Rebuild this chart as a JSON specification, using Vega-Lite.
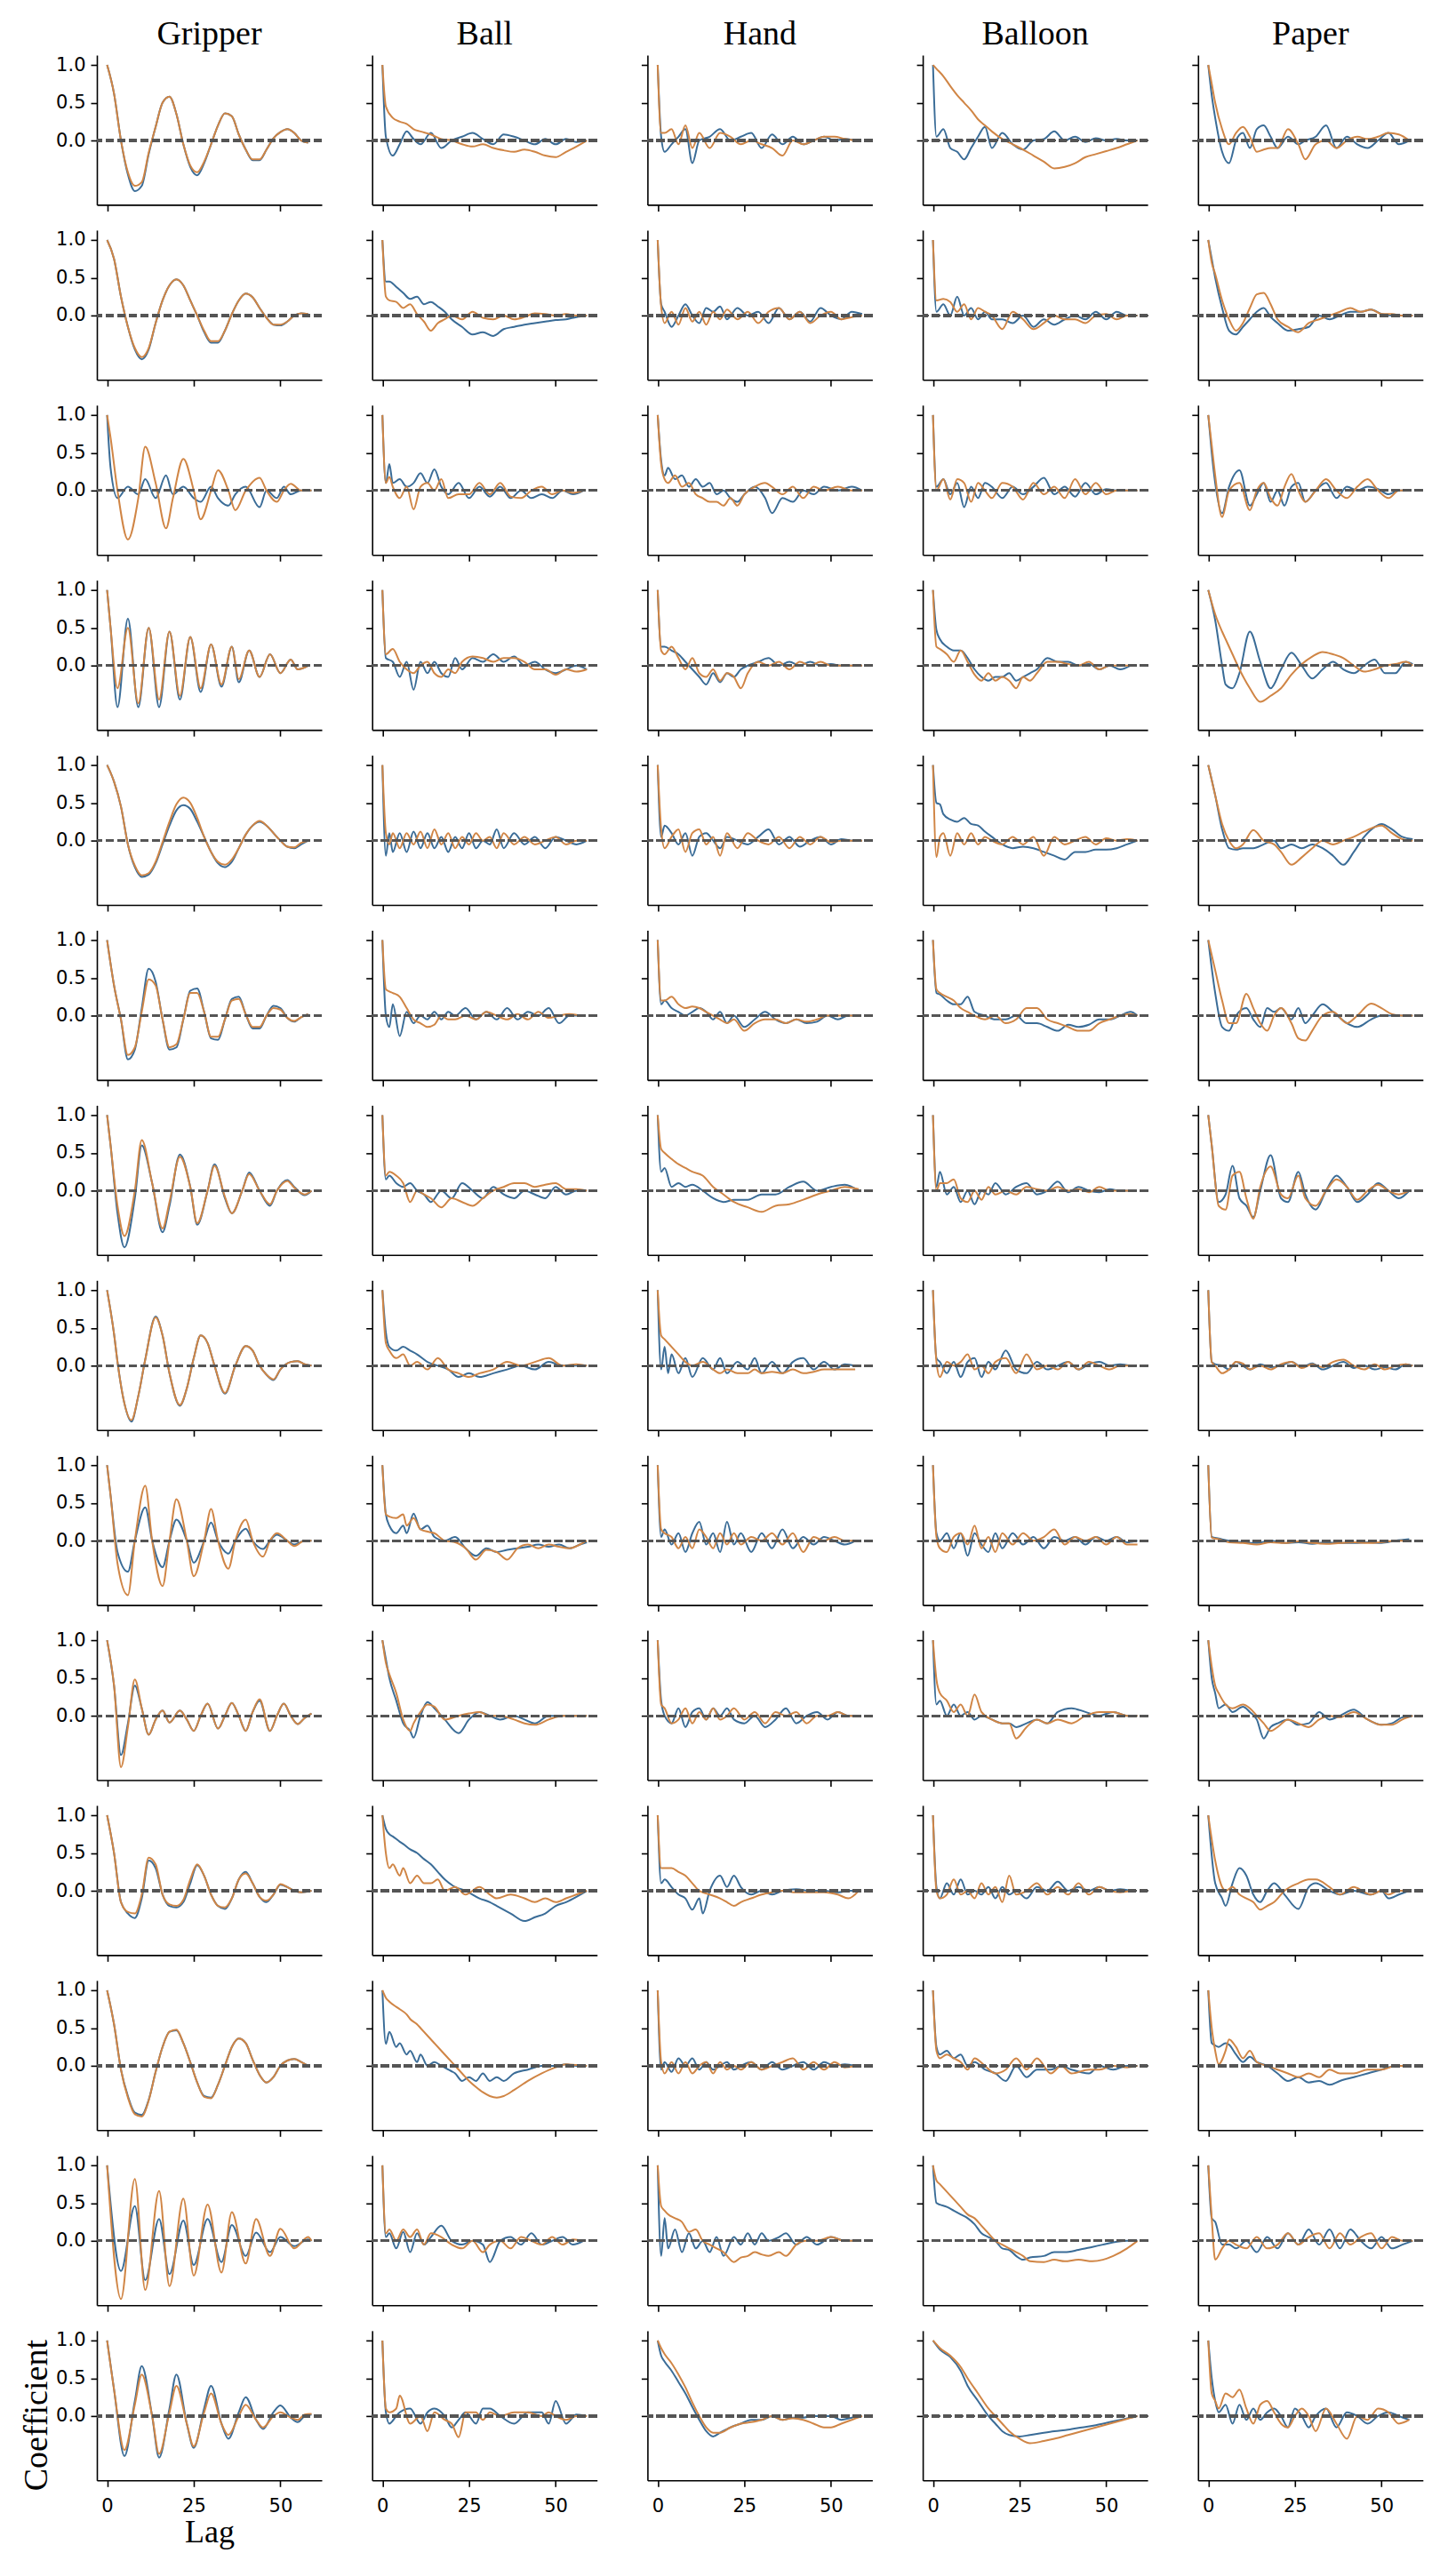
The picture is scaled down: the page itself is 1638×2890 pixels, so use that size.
{
"$schema":"https://vega.github.io/schema/vega-lite/v6.json",
"background":"white",
"padding":{"left":22,"top":20,"right":5,"bottom":5},
"title":{"text":"Coefficient","orient":"left","anchor":"start","frame":"bounds","font":"Liberation Serif","fontSize":38,"fontWeight":"normal","color":"black","offset":2,"dx":64},
"datasets":{"acf":[
{"r":1,"c":"G","x":0,"a":1,"b":1},{"r":1,"c":"G","x":2,"a":0.62,"b":0.62},{"r":1,"c":"G","x":4,"a":0,"b":0},{"r":1,"c":"G","x":6,"a":-0.45,"b":-0.42},{"r":1,"c":"G","x":8,"a":-0.67,"b":-0.6},{"r":1,"c":"G","x":10,"a":-0.6,"b":-0.55},{"r":1,"c":"G","x":12,"a":-0.18,"b":-0.16},{"r":1,"c":"G","x":14,"a":0.18,"b":0.18},{"r":1,"c":"G","x":16,"a":0.5,"b":0.5},{"r":1,"c":"G","x":18,"a":0.58,"b":0.58},{"r":1,"c":"G","x":20,"a":0.35,"b":0.35},{"r":1,"c":"G","x":22,"a":-0.05,"b":-0.05},{"r":1,"c":"G","x":24,"a":-0.35,"b":-0.33},{"r":1,"c":"G","x":26,"a":-0.46,"b":-0.42},{"r":1,"c":"G","x":28,"a":-0.3,"b":-0.28},{"r":1,"c":"G","x":30,"a":-0.05,"b":-0.05},{"r":1,"c":"G","x":32,"a":0.2,"b":0.2},{"r":1,"c":"G","x":34,"a":0.36,"b":0.36},{"r":1,"c":"G","x":36,"a":0.32,"b":0.32},{"r":1,"c":"G","x":38,"a":0.08,"b":0.08},{"r":1,"c":"G","x":40,"a":-0.12,"b":-0.12},{"r":1,"c":"G","x":42,"a":-0.26,"b":-0.25},{"r":1,"c":"G","x":44,"a":-0.26,"b":-0.25},{"r":1,"c":"G","x":46,"a":-0.12,"b":-0.12},{"r":1,"c":"G","x":48,"a":0.03,"b":0.03},{"r":1,"c":"G","x":50,"a":0.11,"b":0.11},{"r":1,"c":"G","x":52,"a":0.15,"b":0.15},{"r":1,"c":"G","x":54,"a":0.1,"b":0.1},{"r":1,"c":"G","x":56,"a":0,"b":0},{"r":1,"c":"G","x":58,"a":-0.03,"b":-0.03},
{"r":1,"c":"B","x":0,"a":1,"b":1},{"r":1,"c":"B","x":1,"a":0.05,"b":0.45},{"r":1,"c":"B","x":3,"a":-0.2,"b":0.3},{"r":1,"c":"B","x":5,"a":-0.05,"b":0.25},{"r":1,"c":"B","x":7,"a":0.12,"b":0.22},{"r":1,"c":"B","x":9,"a":0.02,"b":0.15},{"r":1,"c":"B","x":11,"a":-0.05,"b":0.12},{"r":1,"c":"B","x":14,"a":0.1,"b":0.08},{"r":1,"c":"B","x":17,"a":-0.1,"b":0.02},{"r":1,"c":"B","x":20,"a":0,"b":0},{"r":1,"c":"B","x":23,"a":0.05,"b":-0.05},{"r":1,"c":"B","x":26,"a":0.1,"b":-0.08},{"r":1,"c":"B","x":29,"a":0.02,"b":-0.05},{"r":1,"c":"B","x":32,"a":-0.05,"b":-0.1},{"r":1,"c":"B","x":35,"a":0.08,"b":-0.13},{"r":1,"c":"B","x":38,"a":0.05,"b":-0.15},{"r":1,"c":"B","x":41,"a":0,"b":-0.12},{"r":1,"c":"B","x":44,"a":-0.05,"b":-0.15},{"r":1,"c":"B","x":47,"a":0.02,"b":-0.2},{"r":1,"c":"B","x":50,"a":-0.05,"b":-0.22},{"r":1,"c":"B","x":53,"a":0.02,"b":-0.15},{"r":1,"c":"B","x":56,"a":-0.02,"b":-0.08},{"r":1,"c":"B","x":59,"a":0,"b":0},
{"r":1,"c":"H","x":0,"a":1,"b":1},{"r":1,"c":"H","x":1,"a":0.05,"b":0.1},{"r":1,"c":"H","x":2,"a":-0.15,"b":0.1},{"r":1,"c":"H","x":4,"a":-0.05,"b":0.15},{"r":1,"c":"H","x":6,"a":0.05,"b":-0.05},{"r":1,"c":"H","x":8,"a":0.15,"b":0.2},{"r":1,"c":"H","x":10,"a":-0.3,"b":-0.1},{"r":1,"c":"H","x":12,"a":0,"b":0.1},{"r":1,"c":"H","x":15,"a":0.05,"b":-0.1},{"r":1,"c":"H","x":18,"a":0.15,"b":0.1},{"r":1,"c":"H","x":21,"a":0,"b":0.05},{"r":1,"c":"H","x":24,"a":0.05,"b":-0.05},{"r":1,"c":"H","x":27,"a":0.1,"b":0},{"r":1,"c":"H","x":30,"a":-0.1,"b":-0.05},{"r":1,"c":"H","x":33,"a":0.08,"b":-0.1},{"r":1,"c":"H","x":36,"a":-0.05,"b":-0.2},{"r":1,"c":"H","x":39,"a":0.05,"b":0},{"r":1,"c":"H","x":42,"a":-0.05,"b":-0.05},{"r":1,"c":"H","x":45,"a":0,"b":0},{"r":1,"c":"H","x":48,"a":0.05,"b":0.05},{"r":1,"c":"H","x":51,"a":0,"b":0.05},{"r":1,"c":"H","x":54,"a":0.02,"b":0.02},{"r":1,"c":"H","x":57,"a":0,"b":0},
{"r":1,"c":"L","x":0,"a":1,"b":1},{"r":1,"c":"L","x":1,"a":0.05,"b":0.95},{"r":1,"c":"L","x":3,"a":0.15,"b":0.85},{"r":1,"c":"L","x":5,"a":-0.1,"b":0.72},{"r":1,"c":"L","x":7,"a":-0.15,"b":0.6},{"r":1,"c":"L","x":9,"a":-0.25,"b":0.5},{"r":1,"c":"L","x":11,"a":-0.1,"b":0.4},{"r":1,"c":"L","x":13,"a":0.05,"b":0.28},{"r":1,"c":"L","x":15,"a":0.18,"b":0.2},{"r":1,"c":"L","x":17,"a":-0.1,"b":0.12},{"r":1,"c":"L","x":20,"a":0.1,"b":0.02},{"r":1,"c":"L","x":23,"a":-0.05,"b":-0.05},{"r":1,"c":"L","x":26,"a":-0.12,"b":-0.12},{"r":1,"c":"L","x":29,"a":0,"b":-0.2},{"r":1,"c":"L","x":32,"a":0.02,"b":-0.28},{"r":1,"c":"L","x":35,"a":0.12,"b":-0.37},{"r":1,"c":"L","x":38,"a":0,"b":-0.35},{"r":1,"c":"L","x":41,"a":0.05,"b":-0.3},{"r":1,"c":"L","x":44,"a":-0.02,"b":-0.22},{"r":1,"c":"L","x":47,"a":0.03,"b":-0.18},{"r":1,"c":"L","x":50,"a":0,"b":-0.14},{"r":1,"c":"L","x":53,"a":0.02,"b":-0.1},{"r":1,"c":"L","x":56,"a":0,"b":-0.05},{"r":1,"c":"L","x":59,"a":0,"b":0},
{"r":1,"c":"P","x":0,"a":1,"b":1},{"r":1,"c":"P","x":1,"a":0.6,"b":0.75},{"r":1,"c":"P","x":2,"a":0.3,"b":0.5},{"r":1,"c":"P","x":4,"a":-0.15,"b":0.15},{"r":1,"c":"P","x":6,"a":-0.3,"b":-0.05},{"r":1,"c":"P","x":8,"a":0,"b":0.1},{"r":1,"c":"P","x":10,"a":0.1,"b":0.18},{"r":1,"c":"P","x":12,"a":-0.1,"b":0.05},{"r":1,"c":"P","x":14,"a":0.15,"b":-0.15},{"r":1,"c":"P","x":16,"a":0.2,"b":-0.12},{"r":1,"c":"P","x":18,"a":0.05,"b":-0.1},{"r":1,"c":"P","x":20,"a":-0.1,"b":-0.1},{"r":1,"c":"P","x":23,"a":0.05,"b":0.15},{"r":1,"c":"P","x":26,"a":-0.05,"b":-0.05},{"r":1,"c":"P","x":28,"a":0,"b":-0.25},{"r":1,"c":"P","x":31,"a":0.05,"b":-0.05},{"r":1,"c":"P","x":34,"a":0.2,"b":0},{"r":1,"c":"P","x":37,"a":-0.1,"b":-0.1},{"r":1,"c":"P","x":40,"a":0.05,"b":0},{"r":1,"c":"P","x":43,"a":-0.05,"b":0.05},{"r":1,"c":"P","x":46,"a":-0.1,"b":0.02},{"r":1,"c":"P","x":49,"a":0,"b":0.05},{"r":1,"c":"P","x":52,"a":0.1,"b":0.1},{"r":1,"c":"P","x":55,"a":-0.05,"b":0.08},{"r":1,"c":"P","x":58,"a":0,"b":0},
{"r":2,"c":"G","x":0,"a":1,"b":1},{"r":2,"c":"G","x":2,"a":0.75,"b":0.75},{"r":2,"c":"G","x":4,"a":0.25,"b":0.25},{"r":2,"c":"G","x":6,"a":-0.15,"b":-0.15},{"r":2,"c":"G","x":8,"a":-0.45,"b":-0.43},{"r":2,"c":"G","x":10,"a":-0.58,"b":-0.55},{"r":2,"c":"G","x":12,"a":-0.45,"b":-0.43},{"r":2,"c":"G","x":14,"a":-0.1,"b":-0.1},{"r":2,"c":"G","x":16,"a":0.2,"b":0.2},{"r":2,"c":"G","x":18,"a":0.4,"b":0.4},{"r":2,"c":"G","x":20,"a":0.48,"b":0.48},{"r":2,"c":"G","x":22,"a":0.4,"b":0.4},{"r":2,"c":"G","x":24,"a":0.2,"b":0.2},{"r":2,"c":"G","x":26,"a":0,"b":0},{"r":2,"c":"G","x":28,"a":-0.22,"b":-0.2},{"r":2,"c":"G","x":30,"a":-0.36,"b":-0.34},{"r":2,"c":"G","x":32,"a":-0.36,"b":-0.34},{"r":2,"c":"G","x":34,"a":-0.2,"b":-0.2},{"r":2,"c":"G","x":36,"a":0.02,"b":0.02},{"r":2,"c":"G","x":38,"a":0.2,"b":0.2},{"r":2,"c":"G","x":40,"a":0.29,"b":0.29},{"r":2,"c":"G","x":42,"a":0.24,"b":0.24},{"r":2,"c":"G","x":44,"a":0.1,"b":0.1},{"r":2,"c":"G","x":46,"a":-0.03,"b":-0.03},{"r":2,"c":"G","x":48,"a":-0.12,"b":-0.12},{"r":2,"c":"G","x":50,"a":-0.13,"b":-0.12},{"r":2,"c":"G","x":52,"a":-0.08,"b":-0.08},{"r":2,"c":"G","x":54,"a":0,"b":0},{"r":2,"c":"G","x":56,"a":0.03,"b":0.03},{"r":2,"c":"G","x":58,"a":0.02,"b":0.02},
{"r":2,"c":"B","x":0,"a":1,"b":1},{"r":2,"c":"B","x":1,"a":0.45,"b":0.25},{"r":2,"c":"B","x":2,"a":0.45,"b":0.2},{"r":2,"c":"B","x":4,"a":0.38,"b":0.18},{"r":2,"c":"B","x":6,"a":0.3,"b":0.1},{"r":2,"c":"B","x":8,"a":0.22,"b":0.15},{"r":2,"c":"B","x":10,"a":0.25,"b":0.02},{"r":2,"c":"B","x":12,"a":0.15,"b":-0.08},{"r":2,"c":"B","x":14,"a":0.18,"b":-0.2},{"r":2,"c":"B","x":16,"a":0.12,"b":-0.1},{"r":2,"c":"B","x":18,"a":0.05,"b":-0.05},{"r":2,"c":"B","x":20,"a":-0.05,"b":0},{"r":2,"c":"B","x":23,"a":-0.15,"b":-0.05},{"r":2,"c":"B","x":26,"a":-0.25,"b":0.05},{"r":2,"c":"B","x":29,"a":-0.22,"b":-0.03},{"r":2,"c":"B","x":32,"a":-0.27,"b":-0.05},{"r":2,"c":"B","x":35,"a":-0.18,"b":0},{"r":2,"c":"B","x":38,"a":-0.15,"b":-0.05},{"r":2,"c":"B","x":41,"a":-0.12,"b":-0.02},{"r":2,"c":"B","x":44,"a":-0.1,"b":0.03},{"r":2,"c":"B","x":47,"a":-0.08,"b":0.02},{"r":2,"c":"B","x":50,"a":-0.06,"b":0},{"r":2,"c":"B","x":53,"a":-0.05,"b":0.02},{"r":2,"c":"B","x":56,"a":-0.02,"b":0},{"r":2,"c":"B","x":59,"a":0,"b":0},
{"r":2,"c":"H","x":0,"a":1,"b":1},{"r":2,"c":"H","x":1,"a":0.15,"b":0.12},{"r":2,"c":"H","x":2,"a":0.05,"b":-0.1},{"r":2,"c":"H","x":4,"a":-0.15,"b":0.05},{"r":2,"c":"H","x":6,"a":0,"b":-0.12},{"r":2,"c":"H","x":8,"a":0.15,"b":0.1},{"r":2,"c":"H","x":10,"a":0,"b":-0.08},{"r":2,"c":"H","x":12,"a":-0.1,"b":0.05},{"r":2,"c":"H","x":14,"a":0.1,"b":-0.12},{"r":2,"c":"H","x":16,"a":0.05,"b":0.05},{"r":2,"c":"H","x":18,"a":0.12,"b":-0.05},{"r":2,"c":"H","x":20,"a":-0.05,"b":0.08},{"r":2,"c":"H","x":23,"a":0.1,"b":-0.05},{"r":2,"c":"H","x":26,"a":0,"b":0.05},{"r":2,"c":"H","x":29,"a":0.05,"b":-0.1},{"r":2,"c":"H","x":32,"a":-0.1,"b":0.05},{"r":2,"c":"H","x":35,"a":0.1,"b":0.1},{"r":2,"c":"H","x":38,"a":-0.05,"b":-0.05},{"r":2,"c":"H","x":41,"a":0.05,"b":0.05},{"r":2,"c":"H","x":44,"a":-0.08,"b":-0.1},{"r":2,"c":"H","x":47,"a":0.1,"b":0},{"r":2,"c":"H","x":50,"a":0,"b":0.05},{"r":2,"c":"H","x":53,"a":-0.05,"b":-0.05},{"r":2,"c":"H","x":56,"a":0.05,"b":-0.02},{"r":2,"c":"H","x":59,"a":0.02,"b":0},
{"r":2,"c":"L","x":0,"a":1,"b":1},{"r":2,"c":"L","x":1,"a":0.05,"b":0.2},{"r":2,"c":"L","x":3,"a":0.15,"b":0.22},{"r":2,"c":"L","x":5,"a":0,"b":0.18},{"r":2,"c":"L","x":7,"a":0.25,"b":0.05},{"r":2,"c":"L","x":9,"a":0,"b":0.15},{"r":2,"c":"L","x":11,"a":0.1,"b":-0.05},{"r":2,"c":"L","x":13,"a":-0.05,"b":0.1},{"r":2,"c":"L","x":15,"a":0.05,"b":0.05},{"r":2,"c":"L","x":17,"a":-0.05,"b":0},{"r":2,"c":"L","x":20,"a":-0.05,"b":-0.18},{"r":2,"c":"L","x":23,"a":-0.1,"b":0.05},{"r":2,"c":"L","x":26,"a":0,"b":-0.05},{"r":2,"c":"L","x":29,"a":-0.15,"b":-0.18},{"r":2,"c":"L","x":32,"a":-0.05,"b":-0.1},{"r":2,"c":"L","x":35,"a":-0.12,"b":0},{"r":2,"c":"L","x":38,"a":-0.05,"b":-0.05},{"r":2,"c":"L","x":41,"a":0,"b":-0.05},{"r":2,"c":"L","x":44,"a":-0.05,"b":-0.1},{"r":2,"c":"L","x":47,"a":0.05,"b":0},{"r":2,"c":"L","x":50,"a":-0.05,"b":0.02},{"r":2,"c":"L","x":53,"a":0.05,"b":-0.05},{"r":2,"c":"L","x":56,"a":0,"b":0},{"r":2,"c":"L","x":59,"a":0,"b":0},
{"r":2,"c":"P","x":0,"a":1,"b":1},{"r":2,"c":"P","x":1,"a":0.75,"b":0.7},{"r":2,"c":"P","x":2,"a":0.5,"b":0.55},{"r":2,"c":"P","x":4,"a":0.1,"b":0.2},{"r":2,"c":"P","x":6,"a":-0.2,"b":-0.05},{"r":2,"c":"P","x":8,"a":-0.25,"b":-0.2},{"r":2,"c":"P","x":10,"a":-0.15,"b":-0.1},{"r":2,"c":"P","x":12,"a":-0.05,"b":0.1},{"r":2,"c":"P","x":14,"a":0.05,"b":0.28},{"r":2,"c":"P","x":16,"a":0.1,"b":0.3},{"r":2,"c":"P","x":18,"a":-0.02,"b":0.15},{"r":2,"c":"P","x":20,"a":-0.1,"b":-0.05},{"r":2,"c":"P","x":23,"a":-0.2,"b":-0.15},{"r":2,"c":"P","x":26,"a":-0.18,"b":-0.22},{"r":2,"c":"P","x":29,"a":-0.15,"b":-0.1},{"r":2,"c":"P","x":32,"a":0,"b":-0.05},{"r":2,"c":"P","x":35,"a":-0.05,"b":0},{"r":2,"c":"P","x":38,"a":0,"b":0.05},{"r":2,"c":"P","x":41,"a":0.05,"b":0.1},{"r":2,"c":"P","x":44,"a":0.05,"b":0.05},{"r":2,"c":"P","x":47,"a":0.08,"b":0.08},{"r":2,"c":"P","x":50,"a":0.02,"b":0.02},{"r":2,"c":"P","x":53,"a":0,"b":0.02},{"r":2,"c":"P","x":56,"a":0,"b":0},{"r":2,"c":"P","x":59,"a":0,"b":0},
{"r":3,"c":"G","x":0,"a":1,"b":1},{"r":3,"c":"G","x":1,"a":0.3,"b":0.7},{"r":3,"c":"G","x":3,"a":-0.1,"b":0},{"r":3,"c":"G","x":6,"a":0.05,"b":-0.65},{"r":3,"c":"G","x":9,"a":-0.05,"b":-0.1},{"r":3,"c":"G","x":11,"a":0.15,"b":0.58},{"r":3,"c":"G","x":14,"a":-0.1,"b":0.1},{"r":3,"c":"G","x":17,"a":0.2,"b":-0.5},{"r":3,"c":"G","x":19,"a":-0.05,"b":-0.1},{"r":3,"c":"G","x":22,"a":0.05,"b":0.42},{"r":3,"c":"G","x":25,"a":-0.1,"b":0},{"r":3,"c":"G","x":27,"a":-0.15,"b":-0.38},{"r":3,"c":"G","x":30,"a":0.05,"b":0},{"r":3,"c":"G","x":32,"a":-0.1,"b":0.27},{"r":3,"c":"G","x":35,"a":-0.2,"b":0},{"r":3,"c":"G","x":37,"a":-0.05,"b":-0.26},{"r":3,"c":"G","x":40,"a":0.05,"b":0},{"r":3,"c":"G","x":44,"a":-0.22,"b":0.17},{"r":3,"c":"G","x":46,"a":0,"b":0},{"r":3,"c":"G","x":49,"a":-0.1,"b":-0.15},{"r":3,"c":"G","x":51,"a":0.05,"b":0},{"r":3,"c":"G","x":53,"a":-0.05,"b":0.09},{"r":3,"c":"G","x":56,"a":0,"b":0},{"r":3,"c":"G","x":59,"a":0,"b":0},
{"r":3,"c":"B","x":0,"a":1,"b":1},{"r":3,"c":"B","x":1,"a":0.1,"b":0.1},{"r":3,"c":"B","x":2,"a":0.35,"b":0.18},{"r":3,"c":"B","x":3,"a":0.1,"b":0.05},{"r":3,"c":"B","x":5,"a":0.15,"b":-0.1},{"r":3,"c":"B","x":7,"a":0.05,"b":0.05},{"r":3,"c":"B","x":9,"a":0.1,"b":-0.25},{"r":3,"c":"B","x":11,"a":0.23,"b":0.05},{"r":3,"c":"B","x":13,"a":0.1,"b":0.1},{"r":3,"c":"B","x":15,"a":0.28,"b":0},{"r":3,"c":"B","x":17,"a":0.05,"b":0.15},{"r":3,"c":"B","x":19,"a":-0.05,"b":-0.1},{"r":3,"c":"B","x":22,"a":0.1,"b":-0.05},{"r":3,"c":"B","x":25,"a":-0.1,"b":-0.05},{"r":3,"c":"B","x":28,"a":0.05,"b":0.1},{"r":3,"c":"B","x":31,"a":-0.08,"b":-0.05},{"r":3,"c":"B","x":34,"a":0.05,"b":0.1},{"r":3,"c":"B","x":37,"a":-0.1,"b":-0.08},{"r":3,"c":"B","x":40,"a":0,"b":-0.1},{"r":3,"c":"B","x":43,"a":-0.1,"b":0},{"r":3,"c":"B","x":46,"a":-0.05,"b":0.05},{"r":3,"c":"B","x":49,"a":-0.1,"b":-0.05},{"r":3,"c":"B","x":52,"a":0,"b":0},{"r":3,"c":"B","x":55,"a":-0.05,"b":-0.03},{"r":3,"c":"B","x":58,"a":0,"b":0},
{"r":3,"c":"H","x":0,"a":1,"b":1},{"r":3,"c":"H","x":1,"a":0.4,"b":0.35},{"r":3,"c":"H","x":2,"a":0.2,"b":0.15},{"r":3,"c":"H","x":3,"a":0.3,"b":0.1},{"r":3,"c":"H","x":5,"a":0.15,"b":0.2},{"r":3,"c":"H","x":7,"a":0.2,"b":0.05},{"r":3,"c":"H","x":9,"a":0.05,"b":0.1},{"r":3,"c":"H","x":11,"a":0.15,"b":-0.05},{"r":3,"c":"H","x":13,"a":0.05,"b":-0.1},{"r":3,"c":"H","x":15,"a":0.1,"b":-0.15},{"r":3,"c":"H","x":17,"a":-0.05,"b":-0.15},{"r":3,"c":"H","x":19,"a":0,"b":-0.2},{"r":3,"c":"H","x":21,"a":-0.1,"b":-0.1},{"r":3,"c":"H","x":23,"a":-0.15,"b":-0.2},{"r":3,"c":"H","x":25,"a":-0.05,"b":-0.05},{"r":3,"c":"H","x":28,"a":0.05,"b":0.05},{"r":3,"c":"H","x":31,"a":-0.1,"b":0.1},{"r":3,"c":"H","x":33,"a":-0.3,"b":0.05},{"r":3,"c":"H","x":36,"a":-0.1,"b":-0.05},{"r":3,"c":"H","x":39,"a":-0.15,"b":0.05},{"r":3,"c":"H","x":42,"a":0,"b":-0.1},{"r":3,"c":"H","x":45,"a":-0.05,"b":0.05},{"r":3,"c":"H","x":48,"a":0.05,"b":0},{"r":3,"c":"H","x":52,"a":0,"b":0.05},{"r":3,"c":"H","x":56,"a":0.05,"b":0},{"r":3,"c":"H","x":59,"a":0,"b":0},
{"r":3,"c":"L","x":0,"a":1,"b":1},{"r":3,"c":"L","x":1,"a":0.05,"b":0},{"r":3,"c":"L","x":3,"a":0.15,"b":0.15},{"r":3,"c":"L","x":5,"a":-0.05,"b":-0.12},{"r":3,"c":"L","x":7,"a":0.1,"b":0.15},{"r":3,"c":"L","x":9,"a":-0.22,"b":0.1},{"r":3,"c":"L","x":11,"a":0.05,"b":-0.15},{"r":3,"c":"L","x":13,"a":-0.1,"b":0.1},{"r":3,"c":"L","x":15,"a":0.1,"b":0},{"r":3,"c":"L","x":17,"a":0.05,"b":-0.1},{"r":3,"c":"L","x":20,"a":-0.1,"b":0.1},{"r":3,"c":"L","x":23,"a":0.05,"b":0.05},{"r":3,"c":"L","x":26,"a":-0.05,"b":-0.12},{"r":3,"c":"L","x":29,"a":0.05,"b":0.1},{"r":3,"c":"L","x":32,"a":0.17,"b":-0.05},{"r":3,"c":"L","x":35,"a":-0.05,"b":0.05},{"r":3,"c":"L","x":38,"a":0.05,"b":-0.1},{"r":3,"c":"L","x":41,"a":-0.08,"b":0.15},{"r":3,"c":"L","x":44,"a":0.1,"b":-0.05},{"r":3,"c":"L","x":47,"a":-0.05,"b":0.1},{"r":3,"c":"L","x":50,"a":0.02,"b":-0.05},{"r":3,"c":"L","x":53,"a":0,"b":0},{"r":3,"c":"L","x":56,"a":0,"b":0},{"r":3,"c":"L","x":59,"a":0,"b":0},
{"r":3,"c":"P","x":0,"a":1,"b":1},{"r":3,"c":"P","x":1,"a":0.5,"b":0.6},{"r":3,"c":"P","x":2,"a":0.1,"b":0.2},{"r":3,"c":"P","x":4,"a":-0.3,"b":-0.35},{"r":3,"c":"P","x":6,"a":0.05,"b":0},{"r":3,"c":"P","x":9,"a":0.27,"b":0.1},{"r":3,"c":"P","x":12,"a":-0.2,"b":-0.26},{"r":3,"c":"P","x":14,"a":-0.05,"b":0},{"r":3,"c":"P","x":16,"a":0.1,"b":0.1},{"r":3,"c":"P","x":18,"a":-0.15,"b":-0.1},{"r":3,"c":"P","x":20,"a":0,"b":-0.2},{"r":3,"c":"P","x":22,"a":-0.2,"b":0.05},{"r":3,"c":"P","x":24,"a":0.05,"b":0.22},{"r":3,"c":"P","x":26,"a":0.1,"b":0},{"r":3,"c":"P","x":28,"a":-0.15,"b":-0.15},{"r":3,"c":"P","x":31,"a":0,"b":0},{"r":3,"c":"P","x":34,"a":0.1,"b":0.15},{"r":3,"c":"P","x":37,"a":-0.1,"b":0},{"r":3,"c":"P","x":40,"a":0.05,"b":-0.1},{"r":3,"c":"P","x":43,"a":0,"b":0.05},{"r":3,"c":"P","x":46,"a":0.05,"b":0.15},{"r":3,"c":"P","x":49,"a":0.02,"b":0},{"r":3,"c":"P","x":52,"a":-0.05,"b":-0.1},{"r":3,"c":"P","x":55,"a":0,"b":0},{"r":3,"c":"P","x":58,"a":0,"b":0},
{"r":4,"c":"G","x":0,"a":1,"b":1},{"r":4,"c":"G","x":1,"a":0.5,"b":0.5},{"r":4,"c":"G","x":3,"a":-0.55,"b":-0.3},{"r":4,"c":"G","x":6,"a":0.62,"b":0.5},{"r":4,"c":"G","x":9,"a":-0.55,"b":-0.5},{"r":4,"c":"G","x":12,"a":0.5,"b":0.5},{"r":4,"c":"G","x":15,"a":-0.55,"b":-0.45},{"r":4,"c":"G","x":18,"a":0.45,"b":0.45},{"r":4,"c":"G","x":21,"a":-0.45,"b":-0.4},{"r":4,"c":"G","x":24,"a":0.38,"b":0.38},{"r":4,"c":"G","x":27,"a":-0.35,"b":-0.3},{"r":4,"c":"G","x":30,"a":0.28,"b":0.28},{"r":4,"c":"G","x":33,"a":-0.28,"b":-0.25},{"r":4,"c":"G","x":36,"a":0.25,"b":0.25},{"r":4,"c":"G","x":38,"a":-0.22,"b":-0.18},{"r":4,"c":"G","x":41,"a":0.2,"b":0.2},{"r":4,"c":"G","x":44,"a":-0.15,"b":-0.15},{"r":4,"c":"G","x":47,"a":0.15,"b":0.15},{"r":4,"c":"G","x":50,"a":-0.1,"b":-0.1},{"r":4,"c":"G","x":53,"a":0.08,"b":0.08},{"r":4,"c":"G","x":55,"a":-0.05,"b":-0.05},{"r":4,"c":"G","x":58,"a":0,"b":0},
{"r":4,"c":"B","x":0,"a":1,"b":1},{"r":4,"c":"B","x":1,"a":0.1,"b":0.15},{"r":4,"c":"B","x":3,"a":0.05,"b":0.22},{"r":4,"c":"B","x":5,"a":-0.15,"b":0.05},{"r":4,"c":"B","x":7,"a":0.05,"b":-0.05},{"r":4,"c":"B","x":9,"a":-0.32,"b":-0.1},{"r":4,"c":"B","x":11,"a":0.05,"b":0},{"r":4,"c":"B","x":13,"a":-0.1,"b":0.05},{"r":4,"c":"B","x":15,"a":0.05,"b":-0.1},{"r":4,"c":"B","x":17,"a":-0.1,"b":-0.15},{"r":4,"c":"B","x":19,"a":-0.15,"b":-0.05},{"r":4,"c":"B","x":21,"a":0.1,"b":-0.1},{"r":4,"c":"B","x":23,"a":-0.05,"b":0.05},{"r":4,"c":"B","x":26,"a":0.1,"b":0.12},{"r":4,"c":"B","x":29,"a":0.05,"b":0.1},{"r":4,"c":"B","x":32,"a":0.15,"b":0.05},{"r":4,"c":"B","x":35,"a":0.05,"b":0.1},{"r":4,"c":"B","x":38,"a":0.12,"b":0.1},{"r":4,"c":"B","x":41,"a":0,"b":0.05},{"r":4,"c":"B","x":44,"a":0.05,"b":-0.05},{"r":4,"c":"B","x":47,"a":-0.05,"b":-0.05},{"r":4,"c":"B","x":50,"a":-0.1,"b":-0.12},{"r":4,"c":"B","x":53,"a":-0.05,"b":-0.05},{"r":4,"c":"B","x":56,"a":0,"b":-0.08},{"r":4,"c":"B","x":59,"a":-0.05,"b":-0.05},
{"r":4,"c":"H","x":0,"a":1,"b":1},{"r":4,"c":"H","x":1,"a":0.25,"b":0.2},{"r":4,"c":"H","x":2,"a":0.25,"b":0.15},{"r":4,"c":"H","x":4,"a":0.2,"b":0.25},{"r":4,"c":"H","x":6,"a":0.15,"b":0.1},{"r":4,"c":"H","x":8,"a":0.05,"b":-0.05},{"r":4,"c":"H","x":10,"a":-0.05,"b":0.1},{"r":4,"c":"H","x":12,"a":-0.15,"b":-0.1},{"r":4,"c":"H","x":14,"a":-0.25,"b":-0.15},{"r":4,"c":"H","x":16,"a":-0.1,"b":-0.05},{"r":4,"c":"H","x":18,"a":-0.22,"b":-0.2},{"r":4,"c":"H","x":20,"a":-0.1,"b":-0.1},{"r":4,"c":"H","x":22,"a":-0.15,"b":-0.15},{"r":4,"c":"H","x":24,"a":-0.05,"b":-0.3},{"r":4,"c":"H","x":26,"a":0,"b":-0.1},{"r":4,"c":"H","x":29,"a":0.05,"b":0.05},{"r":4,"c":"H","x":32,"a":0.1,"b":0},{"r":4,"c":"H","x":35,"a":0,"b":0.05},{"r":4,"c":"H","x":38,"a":0.05,"b":-0.05},{"r":4,"c":"H","x":41,"a":0,"b":0.05},{"r":4,"c":"H","x":44,"a":0.05,"b":0},{"r":4,"c":"H","x":47,"a":0,"b":0.05},{"r":4,"c":"H","x":50,"a":0.02,"b":0},{"r":4,"c":"H","x":53,"a":0,"b":0},{"r":4,"c":"H","x":56,"a":0,"b":0},{"r":4,"c":"H","x":59,"a":0,"b":0},
{"r":4,"c":"L","x":0,"a":1,"b":1},{"r":4,"c":"L","x":1,"a":0.47,"b":0.25},{"r":4,"c":"L","x":2,"a":0.35,"b":0.22},{"r":4,"c":"L","x":4,"a":0.25,"b":0.15},{"r":4,"c":"L","x":6,"a":0.2,"b":0.05},{"r":4,"c":"L","x":8,"a":0.2,"b":0.2},{"r":4,"c":"L","x":10,"a":0.1,"b":0.05},{"r":4,"c":"L","x":12,"a":-0.05,"b":-0.12},{"r":4,"c":"L","x":14,"a":-0.15,"b":-0.2},{"r":4,"c":"L","x":16,"a":-0.2,"b":-0.1},{"r":4,"c":"L","x":18,"a":-0.15,"b":-0.2},{"r":4,"c":"L","x":20,"a":-0.15,"b":-0.15},{"r":4,"c":"L","x":22,"a":-0.1,"b":-0.2},{"r":4,"c":"L","x":24,"a":-0.2,"b":-0.3},{"r":4,"c":"L","x":26,"a":-0.15,"b":-0.15},{"r":4,"c":"L","x":28,"a":-0.1,"b":-0.2},{"r":4,"c":"L","x":30,"a":-0.05,"b":-0.1},{"r":4,"c":"L","x":33,"a":0.1,"b":0.05},{"r":4,"c":"L","x":36,"a":0.05,"b":0.05},{"r":4,"c":"L","x":39,"a":0.05,"b":0.02},{"r":4,"c":"L","x":42,"a":0,"b":0},{"r":4,"c":"L","x":45,"a":0.02,"b":0.05},{"r":4,"c":"L","x":48,"a":-0.05,"b":-0.05},{"r":4,"c":"L","x":51,"a":0,"b":0},{"r":4,"c":"L","x":54,"a":-0.05,"b":0},{"r":4,"c":"L","x":57,"a":0,"b":0},
{"r":4,"c":"P","x":0,"a":1,"b":1},{"r":4,"c":"P","x":2,"a":0.6,"b":0.68},{"r":4,"c":"P","x":4,"a":0,"b":0.45},{"r":4,"c":"P","x":5,"a":-0.25,"b":0.35},{"r":4,"c":"P","x":7,"a":-0.3,"b":0.15},{"r":4,"c":"P","x":9,"a":-0.1,"b":-0.05},{"r":4,"c":"P","x":12,"a":0.45,"b":-0.3},{"r":4,"c":"P","x":15,"a":0.05,"b":-0.48},{"r":4,"c":"P","x":18,"a":-0.3,"b":-0.4},{"r":4,"c":"P","x":21,"a":-0.05,"b":-0.3},{"r":4,"c":"P","x":24,"a":0.17,"b":-0.12},{"r":4,"c":"P","x":27,"a":0,"b":0.02},{"r":4,"c":"P","x":30,"a":-0.17,"b":0.12},{"r":4,"c":"P","x":33,"a":-0.05,"b":0.18},{"r":4,"c":"P","x":36,"a":0.05,"b":0.15},{"r":4,"c":"P","x":39,"a":-0.05,"b":0.1},{"r":4,"c":"P","x":42,"a":-0.1,"b":0},{"r":4,"c":"P","x":45,"a":0,"b":-0.08},{"r":4,"c":"P","x":48,"a":0.08,"b":-0.05},{"r":4,"c":"P","x":51,"a":-0.1,"b":0},{"r":4,"c":"P","x":54,"a":-0.1,"b":0.02},{"r":4,"c":"P","x":57,"a":0.05,"b":0.05},{"r":4,"c":"P","x":59,"a":0.02,"b":0},
{"r":5,"c":"G","x":0,"a":1,"b":1},{"r":5,"c":"G","x":2,"a":0.78,"b":0.78},{"r":5,"c":"G","x":4,"a":0.45,"b":0.45},{"r":5,"c":"G","x":6,"a":-0.05,"b":-0.05},{"r":5,"c":"G","x":8,"a":-0.35,"b":-0.33},{"r":5,"c":"G","x":10,"a":-0.48,"b":-0.46},{"r":5,"c":"G","x":12,"a":-0.45,"b":-0.43},{"r":5,"c":"G","x":14,"a":-0.3,"b":-0.28},{"r":5,"c":"G","x":16,"a":-0.05,"b":-0.02},{"r":5,"c":"G","x":18,"a":0.2,"b":0.25},{"r":5,"c":"G","x":20,"a":0.4,"b":0.48},{"r":5,"c":"G","x":22,"a":0.47,"b":0.57},{"r":5,"c":"G","x":24,"a":0.42,"b":0.5},{"r":5,"c":"G","x":26,"a":0.25,"b":0.3},{"r":5,"c":"G","x":28,"a":0.05,"b":0.05},{"r":5,"c":"G","x":30,"a":-0.15,"b":-0.15},{"r":5,"c":"G","x":32,"a":-0.3,"b":-0.28},{"r":5,"c":"G","x":34,"a":-0.35,"b":-0.32},{"r":5,"c":"G","x":36,"a":-0.28,"b":-0.25},{"r":5,"c":"G","x":38,"a":-0.1,"b":-0.1},{"r":5,"c":"G","x":40,"a":0.08,"b":0.08},{"r":5,"c":"G","x":42,"a":0.2,"b":0.2},{"r":5,"c":"G","x":44,"a":0.25,"b":0.26},{"r":5,"c":"G","x":46,"a":0.2,"b":0.2},{"r":5,"c":"G","x":48,"a":0.1,"b":0.1},{"r":5,"c":"G","x":50,"a":0,"b":0},{"r":5,"c":"G","x":52,"a":-0.08,"b":-0.08},{"r":5,"c":"G","x":54,"a":-0.1,"b":-0.09},{"r":5,"c":"G","x":56,"a":-0.05,"b":-0.03},{"r":5,"c":"G","x":58,"a":0,"b":0},
{"r":5,"c":"B","x":0,"a":1,"b":1},{"r":5,"c":"B","x":1,"a":-0.2,"b":0.1},{"r":5,"c":"B","x":2,"a":0.1,"b":-0.05},{"r":5,"c":"B","x":3,"a":-0.15,"b":0.1},{"r":5,"c":"B","x":5,"a":0.1,"b":-0.1},{"r":5,"c":"B","x":7,"a":-0.15,"b":0.1},{"r":5,"c":"B","x":9,"a":0.12,"b":-0.05},{"r":5,"c":"B","x":11,"a":-0.1,"b":0.12},{"r":5,"c":"B","x":13,"a":0.1,"b":-0.1},{"r":5,"c":"B","x":15,"a":-0.1,"b":0.15},{"r":5,"c":"B","x":17,"a":0.05,"b":-0.05},{"r":5,"c":"B","x":19,"a":-0.15,"b":0.1},{"r":5,"c":"B","x":21,"a":0.05,"b":-0.1},{"r":5,"c":"B","x":23,"a":-0.1,"b":0.05},{"r":5,"c":"B","x":25,"a":0.1,"b":-0.05},{"r":5,"c":"B","x":27,"a":-0.1,"b":0.1},{"r":5,"c":"B","x":29,"a":0,"b":0},{"r":5,"c":"B","x":31,"a":-0.05,"b":0.05},{"r":5,"c":"B","x":33,"a":0.15,"b":-0.1},{"r":5,"c":"B","x":35,"a":-0.1,"b":0.1},{"r":5,"c":"B","x":38,"a":0.1,"b":-0.05},{"r":5,"c":"B","x":41,"a":-0.05,"b":0.05},{"r":5,"c":"B","x":44,"a":0.05,"b":-0.05},{"r":5,"c":"B","x":47,"a":-0.1,"b":0},{"r":5,"c":"B","x":50,"a":0.05,"b":0.05},{"r":5,"c":"B","x":53,"a":0,"b":-0.05},{"r":5,"c":"B","x":56,"a":-0.05,"b":0},{"r":5,"c":"B","x":59,"a":0,"b":0},
{"r":5,"c":"H","x":0,"a":1,"b":1},{"r":5,"c":"H","x":1,"a":0.05,"b":0.15},{"r":5,"c":"H","x":2,"a":0.2,"b":-0.1},{"r":5,"c":"H","x":4,"a":0.1,"b":0.05},{"r":5,"c":"H","x":6,"a":-0.05,"b":0.15},{"r":5,"c":"H","x":8,"a":0.1,"b":-0.15},{"r":5,"c":"H","x":10,"a":-0.2,"b":0.1},{"r":5,"c":"H","x":12,"a":0.05,"b":0.15},{"r":5,"c":"H","x":14,"a":0.1,"b":-0.05},{"r":5,"c":"H","x":16,"a":0,"b":0.05},{"r":5,"c":"H","x":18,"a":-0.1,"b":-0.2},{"r":5,"c":"H","x":20,"a":0.05,"b":0.1},{"r":5,"c":"H","x":23,"a":0,"b":-0.1},{"r":5,"c":"H","x":26,"a":-0.05,"b":0.1},{"r":5,"c":"H","x":29,"a":0.05,"b":0},{"r":5,"c":"H","x":32,"a":0.15,"b":-0.05},{"r":5,"c":"H","x":35,"a":-0.05,"b":0.05},{"r":5,"c":"H","x":38,"a":0.05,"b":-0.1},{"r":5,"c":"H","x":41,"a":-0.08,"b":0.05},{"r":5,"c":"H","x":44,"a":0,"b":-0.05},{"r":5,"c":"H","x":47,"a":0.05,"b":0.05},{"r":5,"c":"H","x":50,"a":-0.05,"b":-0.02},{"r":5,"c":"H","x":53,"a":0.02,"b":0},{"r":5,"c":"H","x":56,"a":0,"b":0},{"r":5,"c":"H","x":59,"a":0,"b":0},
{"r":5,"c":"L","x":0,"a":1,"b":1},{"r":5,"c":"L","x":1,"a":0.5,"b":-0.22},{"r":5,"c":"L","x":2,"a":0.48,"b":0.05},{"r":5,"c":"L","x":3,"a":0.35,"b":0.1},{"r":5,"c":"L","x":5,"a":0.28,"b":-0.2},{"r":5,"c":"L","x":7,"a":0.25,"b":0.1},{"r":5,"c":"L","x":9,"a":0.3,"b":-0.05},{"r":5,"c":"L","x":11,"a":0.22,"b":0.1},{"r":5,"c":"L","x":13,"a":0.2,"b":-0.05},{"r":5,"c":"L","x":15,"a":0.12,"b":0.05},{"r":5,"c":"L","x":17,"a":0.05,"b":0},{"r":5,"c":"L","x":20,"a":-0.05,"b":-0.05},{"r":5,"c":"L","x":23,"a":-0.1,"b":0.05},{"r":5,"c":"L","x":26,"a":-0.08,"b":-0.05},{"r":5,"c":"L","x":29,"a":-0.1,"b":0.05},{"r":5,"c":"L","x":32,"a":-0.15,"b":-0.2},{"r":5,"c":"L","x":35,"a":-0.2,"b":0.05},{"r":5,"c":"L","x":38,"a":-0.25,"b":-0.05},{"r":5,"c":"L","x":41,"a":-0.15,"b":0},{"r":5,"c":"L","x":44,"a":-0.15,"b":0.05},{"r":5,"c":"L","x":47,"a":-0.12,"b":-0.05},{"r":5,"c":"L","x":50,"a":-0.12,"b":0.03},{"r":5,"c":"L","x":53,"a":-0.1,"b":0},{"r":5,"c":"L","x":56,"a":-0.05,"b":0.02},{"r":5,"c":"L","x":59,"a":0,"b":0},
{"r":5,"c":"P","x":0,"a":1,"b":1},{"r":5,"c":"P","x":2,"a":0.6,"b":0.6},{"r":5,"c":"P","x":4,"a":0.15,"b":0.22},{"r":5,"c":"P","x":6,"a":-0.1,"b":0},{"r":5,"c":"P","x":8,"a":-0.12,"b":-0.1},{"r":5,"c":"P","x":10,"a":-0.1,"b":-0.05},{"r":5,"c":"P","x":13,"a":-0.1,"b":0.14},{"r":5,"c":"P","x":16,"a":-0.05,"b":0},{"r":5,"c":"P","x":19,"a":0,"b":-0.05},{"r":5,"c":"P","x":21,"a":-0.1,"b":-0.15},{"r":5,"c":"P","x":24,"a":-0.05,"b":-0.32},{"r":5,"c":"P","x":27,"a":-0.1,"b":-0.22},{"r":5,"c":"P","x":30,"a":-0.05,"b":-0.1},{"r":5,"c":"P","x":33,"a":-0.1,"b":0},{"r":5,"c":"P","x":36,"a":-0.2,"b":-0.05},{"r":5,"c":"P","x":39,"a":-0.32,"b":0},{"r":5,"c":"P","x":42,"a":-0.15,"b":0.05},{"r":5,"c":"P","x":45,"a":0.05,"b":0.12},{"r":5,"c":"P","x":48,"a":0.18,"b":0.18},{"r":5,"c":"P","x":50,"a":0.22,"b":0.2},{"r":5,"c":"P","x":53,"a":0.15,"b":0.1},{"r":5,"c":"P","x":56,"a":0.05,"b":0.02},{"r":5,"c":"P","x":59,"a":0.02,"b":0},
{"r":6,"c":"G","x":0,"a":1,"b":1},{"r":6,"c":"G","x":2,"a":0.4,"b":0.4},{"r":6,"c":"G","x":4,"a":-0.05,"b":-0.05},{"r":6,"c":"G","x":6,"a":-0.58,"b":-0.52},{"r":6,"c":"G","x":8,"a":-0.45,"b":-0.42},{"r":6,"c":"G","x":10,"a":0.1,"b":0.05},{"r":6,"c":"G","x":12,"a":0.62,"b":0.48},{"r":6,"c":"G","x":14,"a":0.45,"b":0.4},{"r":6,"c":"G","x":16,"a":-0.05,"b":-0.05},{"r":6,"c":"G","x":18,"a":-0.45,"b":-0.42},{"r":6,"c":"G","x":20,"a":-0.42,"b":-0.38},{"r":6,"c":"G","x":22,"a":-0.05,"b":-0.05},{"r":6,"c":"G","x":24,"a":0.33,"b":0.3},{"r":6,"c":"G","x":26,"a":0.36,"b":0.3},{"r":6,"c":"G","x":28,"a":0.05,"b":0.05},{"r":6,"c":"G","x":30,"a":-0.3,"b":-0.28},{"r":6,"c":"G","x":32,"a":-0.32,"b":-0.28},{"r":6,"c":"G","x":34,"a":-0.05,"b":-0.05},{"r":6,"c":"G","x":36,"a":0.22,"b":0.2},{"r":6,"c":"G","x":38,"a":0.25,"b":0.22},{"r":6,"c":"G","x":40,"a":0.02,"b":0.02},{"r":6,"c":"G","x":42,"a":-0.17,"b":-0.15},{"r":6,"c":"G","x":44,"a":-0.17,"b":-0.15},{"r":6,"c":"G","x":46,"a":0,"b":0},{"r":6,"c":"G","x":48,"a":0.13,"b":0.1},{"r":6,"c":"G","x":50,"a":0.1,"b":0.08},{"r":6,"c":"G","x":52,"a":-0.03,"b":-0.03},{"r":6,"c":"G","x":54,"a":-0.08,"b":-0.07},{"r":6,"c":"G","x":56,"a":-0.02,"b":-0.02},{"r":6,"c":"G","x":58,"a":0.02,"b":0.02},
{"r":6,"c":"B","x":0,"a":1,"b":1},{"r":6,"c":"B","x":1,"a":0,"b":0.35},{"r":6,"c":"B","x":2,"a":-0.15,"b":0.32},{"r":6,"c":"B","x":3,"a":0.15,"b":0.3},{"r":6,"c":"B","x":5,"a":-0.27,"b":0.25},{"r":6,"c":"B","x":7,"a":0.05,"b":0.1},{"r":6,"c":"B","x":9,"a":-0.1,"b":-0.05},{"r":6,"c":"B","x":11,"a":0,"b":-0.1},{"r":6,"c":"B","x":13,"a":-0.05,"b":-0.15},{"r":6,"c":"B","x":15,"a":0.05,"b":-0.12},{"r":6,"c":"B","x":17,"a":-0.05,"b":0},{"r":6,"c":"B","x":19,"a":0.05,"b":-0.05},{"r":6,"c":"B","x":21,"a":0,"b":-0.05},{"r":6,"c":"B","x":24,"a":0.1,"b":0},{"r":6,"c":"B","x":27,"a":-0.05,"b":-0.05},{"r":6,"c":"B","x":30,"a":0.05,"b":0.05},{"r":6,"c":"B","x":33,"a":-0.05,"b":0},{"r":6,"c":"B","x":36,"a":0.1,"b":-0.05},{"r":6,"c":"B","x":39,"a":-0.05,"b":0.02},{"r":6,"c":"B","x":42,"a":0.05,"b":-0.05},{"r":6,"c":"B","x":45,"a":0,"b":0.05},{"r":6,"c":"B","x":48,"a":0.1,"b":-0.03},{"r":6,"c":"B","x":51,"a":-0.1,"b":0},{"r":6,"c":"B","x":54,"a":0,"b":0.02},{"r":6,"c":"B","x":57,"a":0,"b":0},
{"r":6,"c":"H","x":0,"a":1,"b":1},{"r":6,"c":"H","x":1,"a":0.15,"b":0.2},{"r":6,"c":"H","x":2,"a":0.2,"b":0.2},{"r":6,"c":"H","x":4,"a":0.1,"b":0.25},{"r":6,"c":"H","x":6,"a":0.05,"b":0.15},{"r":6,"c":"H","x":8,"a":0,"b":0.1},{"r":6,"c":"H","x":10,"a":0.05,"b":0.12},{"r":6,"c":"H","x":12,"a":0.1,"b":0.1},{"r":6,"c":"H","x":14,"a":0.05,"b":0.05},{"r":6,"c":"H","x":16,"a":-0.05,"b":0},{"r":6,"c":"H","x":18,"a":0.05,"b":-0.05},{"r":6,"c":"H","x":20,"a":-0.1,"b":-0.1},{"r":6,"c":"H","x":22,"a":0,"b":-0.05},{"r":6,"c":"H","x":25,"a":-0.15,"b":-0.2},{"r":6,"c":"H","x":28,"a":-0.05,"b":-0.1},{"r":6,"c":"H","x":31,"a":0.05,"b":-0.05},{"r":6,"c":"H","x":34,"a":-0.05,"b":-0.05},{"r":6,"c":"H","x":37,"a":-0.1,"b":-0.1},{"r":6,"c":"H","x":40,"a":-0.05,"b":-0.05},{"r":6,"c":"H","x":43,"a":-0.1,"b":-0.08},{"r":6,"c":"H","x":46,"a":-0.08,"b":-0.05},{"r":6,"c":"H","x":49,"a":0,"b":0},{"r":6,"c":"H","x":52,"a":-0.05,"b":0},{"r":6,"c":"H","x":55,"a":0,"b":0},{"r":6,"c":"H","x":58,"a":0,"b":0},
{"r":6,"c":"L","x":0,"a":1,"b":1},{"r":6,"c":"L","x":1,"a":0.3,"b":0.35},{"r":6,"c":"L","x":2,"a":0.28,"b":0.3},{"r":6,"c":"L","x":4,"a":0.2,"b":0.25},{"r":6,"c":"L","x":6,"a":0.15,"b":0.2},{"r":6,"c":"L","x":8,"a":0.15,"b":0.1},{"r":6,"c":"L","x":10,"a":0.25,"b":0.05},{"r":6,"c":"L","x":12,"a":0.05,"b":0},{"r":6,"c":"L","x":15,"a":0,"b":-0.05},{"r":6,"c":"L","x":18,"a":-0.05,"b":0},{"r":6,"c":"L","x":21,"a":-0.05,"b":-0.1},{"r":6,"c":"L","x":24,"a":0,"b":-0.05},{"r":6,"c":"L","x":27,"a":-0.1,"b":0.1},{"r":6,"c":"L","x":30,"a":-0.1,"b":0.1},{"r":6,"c":"L","x":33,"a":-0.15,"b":-0.05},{"r":6,"c":"L","x":36,"a":-0.2,"b":-0.1},{"r":6,"c":"L","x":39,"a":-0.12,"b":-0.15},{"r":6,"c":"L","x":42,"a":-0.15,"b":-0.2},{"r":6,"c":"L","x":45,"a":-0.12,"b":-0.2},{"r":6,"c":"L","x":48,"a":-0.05,"b":-0.1},{"r":6,"c":"L","x":51,"a":-0.05,"b":-0.05},{"r":6,"c":"L","x":54,"a":0,"b":0},{"r":6,"c":"L","x":57,"a":0.05,"b":0.02},{"r":6,"c":"L","x":59,"a":0,"b":0},
{"r":6,"c":"P","x":0,"a":1,"b":1},{"r":6,"c":"P","x":2,"a":0.3,"b":0.6},{"r":6,"c":"P","x":4,"a":-0.15,"b":0.2},{"r":6,"c":"P","x":6,"a":-0.2,"b":-0.1},{"r":6,"c":"P","x":8,"a":0,"b":-0.1},{"r":6,"c":"P","x":11,"a":0.1,"b":0.29},{"r":6,"c":"P","x":13,"a":-0.05,"b":0.1},{"r":6,"c":"P","x":15,"a":-0.15,"b":-0.1},{"r":6,"c":"P","x":17,"a":0.1,"b":-0.2},{"r":6,"c":"P","x":19,"a":0.05,"b":0},{"r":6,"c":"P","x":21,"a":0.1,"b":0.1},{"r":6,"c":"P","x":24,"a":-0.05,"b":-0.1},{"r":6,"c":"P","x":26,"a":0.1,"b":-0.3},{"r":6,"c":"P","x":28,"a":-0.1,"b":-0.33},{"r":6,"c":"P","x":30,"a":0,"b":-0.2},{"r":6,"c":"P","x":33,"a":0.15,"b":0},{"r":6,"c":"P","x":36,"a":0.05,"b":0.05},{"r":6,"c":"P","x":40,"a":-0.1,"b":-0.1},{"r":6,"c":"P","x":43,"a":-0.15,"b":0},{"r":6,"c":"P","x":47,"a":-0.05,"b":0.16},{"r":6,"c":"P","x":50,"a":0,"b":0.1},{"r":6,"c":"P","x":53,"a":0,"b":0.02},{"r":6,"c":"P","x":56,"a":0,"b":0},{"r":6,"c":"P","x":59,"a":0,"b":0},
{"r":7,"c":"G","x":0,"a":1,"b":1},{"r":7,"c":"G","x":1,"a":0.6,"b":0.6},{"r":7,"c":"G","x":3,"a":-0.3,"b":-0.2},{"r":7,"c":"G","x":5,"a":-0.75,"b":-0.6},{"r":7,"c":"G","x":8,"a":-0.1,"b":0},{"r":7,"c":"G","x":10,"a":0.6,"b":0.67},{"r":7,"c":"G","x":13,"a":0.1,"b":0.1},{"r":7,"c":"G","x":16,"a":-0.55,"b":-0.5},{"r":7,"c":"G","x":18,"a":-0.2,"b":-0.15},{"r":7,"c":"G","x":21,"a":0.48,"b":0.45},{"r":7,"c":"G","x":24,"a":0.05,"b":0.05},{"r":7,"c":"G","x":26,"a":-0.45,"b":-0.43},{"r":7,"c":"G","x":29,"a":0,"b":0},{"r":7,"c":"G","x":31,"a":0.35,"b":0.33},{"r":7,"c":"G","x":34,"a":-0.1,"b":-0.08},{"r":7,"c":"G","x":36,"a":-0.3,"b":-0.3},{"r":7,"c":"G","x":39,"a":0,"b":0},{"r":7,"c":"G","x":41,"a":0.24,"b":0.22},{"r":7,"c":"G","x":44,"a":0,"b":0},{"r":7,"c":"G","x":47,"a":-0.2,"b":-0.18},{"r":7,"c":"G","x":49,"a":0,"b":0},{"r":7,"c":"G","x":52,"a":0.14,"b":0.13},{"r":7,"c":"G","x":54,"a":0.05,"b":0.04},{"r":7,"c":"G","x":57,"a":-0.06,"b":-0.05},{"r":7,"c":"G","x":59,"a":0,"b":0},
{"r":7,"c":"B","x":0,"a":1,"b":1},{"r":7,"c":"B","x":1,"a":0.15,"b":0.2},{"r":7,"c":"B","x":2,"a":0.2,"b":0.25},{"r":7,"c":"B","x":4,"a":0.1,"b":0.2},{"r":7,"c":"B","x":6,"a":0.05,"b":0.1},{"r":7,"c":"B","x":8,"a":0.1,"b":-0.15},{"r":7,"c":"B","x":10,"a":0,"b":0},{"r":7,"c":"B","x":12,"a":-0.05,"b":-0.05},{"r":7,"c":"B","x":14,"a":-0.15,"b":-0.1},{"r":7,"c":"B","x":17,"a":0,"b":-0.22},{"r":7,"c":"B","x":20,"a":-0.1,"b":-0.1},{"r":7,"c":"B","x":23,"a":0.1,"b":-0.15},{"r":7,"c":"B","x":26,"a":0,"b":-0.2},{"r":7,"c":"B","x":29,"a":-0.1,"b":-0.1},{"r":7,"c":"B","x":32,"a":0.05,"b":0},{"r":7,"c":"B","x":35,"a":-0.05,"b":0.05},{"r":7,"c":"B","x":38,"a":-0.1,"b":0.1},{"r":7,"c":"B","x":41,"a":0,"b":0.1},{"r":7,"c":"B","x":44,"a":-0.05,"b":0.05},{"r":7,"c":"B","x":47,"a":-0.1,"b":0.08},{"r":7,"c":"B","x":50,"a":0.05,"b":0.1},{"r":7,"c":"B","x":53,"a":-0.05,"b":0.02},{"r":7,"c":"B","x":56,"a":0,"b":0.02},{"r":7,"c":"B","x":59,"a":0,"b":0},
{"r":7,"c":"H","x":0,"a":1,"b":1},{"r":7,"c":"H","x":1,"a":0.25,"b":0.55},{"r":7,"c":"H","x":2,"a":0.3,"b":0.5},{"r":7,"c":"H","x":4,"a":0.05,"b":0.42},{"r":7,"c":"H","x":6,"a":0.1,"b":0.35},{"r":7,"c":"H","x":8,"a":0.05,"b":0.3},{"r":7,"c":"H","x":10,"a":0.08,"b":0.25},{"r":7,"c":"H","x":13,"a":0,"b":0.2},{"r":7,"c":"H","x":16,"a":-0.1,"b":0.05},{"r":7,"c":"H","x":19,"a":-0.15,"b":-0.05},{"r":7,"c":"H","x":22,"a":-0.12,"b":-0.15},{"r":7,"c":"H","x":26,"a":-0.12,"b":-0.22},{"r":7,"c":"H","x":30,"a":-0.05,"b":-0.28},{"r":7,"c":"H","x":34,"a":-0.05,"b":-0.2},{"r":7,"c":"H","x":38,"a":0.05,"b":-0.18},{"r":7,"c":"H","x":42,"a":0.12,"b":-0.12},{"r":7,"c":"H","x":46,"a":0,"b":-0.05},{"r":7,"c":"H","x":50,"a":0.05,"b":0},{"r":7,"c":"H","x":54,"a":0.08,"b":0.05},{"r":7,"c":"H","x":58,"a":0,"b":0.02},
{"r":7,"c":"L","x":0,"a":1,"b":1},{"r":7,"c":"L","x":1,"a":0.05,"b":0},{"r":7,"c":"L","x":2,"a":0.25,"b":0.1},{"r":7,"c":"L","x":4,"a":-0.05,"b":0.1},{"r":7,"c":"L","x":6,"a":0.05,"b":0.15},{"r":7,"c":"L","x":8,"a":-0.15,"b":-0.1},{"r":7,"c":"L","x":10,"a":0,"b":-0.15},{"r":7,"c":"L","x":12,"a":-0.18,"b":0},{"r":7,"c":"L","x":14,"a":0,"b":-0.12},{"r":7,"c":"L","x":16,"a":-0.05,"b":0.05},{"r":7,"c":"L","x":18,"a":0.1,"b":-0.05},{"r":7,"c":"L","x":21,"a":-0.05,"b":0},{"r":7,"c":"L","x":24,"a":0.05,"b":-0.05},{"r":7,"c":"L","x":27,"a":0.1,"b":0.05},{"r":7,"c":"L","x":30,"a":-0.05,"b":0.02},{"r":7,"c":"L","x":33,"a":0,"b":0},{"r":7,"c":"L","x":36,"a":0.12,"b":0.05},{"r":7,"c":"L","x":39,"a":-0.02,"b":0},{"r":7,"c":"L","x":42,"a":0.05,"b":0.02},{"r":7,"c":"L","x":45,"a":0,"b":-0.02},{"r":7,"c":"L","x":48,"a":-0.02,"b":0.05},{"r":7,"c":"L","x":51,"a":0.02,"b":0},{"r":7,"c":"L","x":54,"a":0,"b":0},{"r":7,"c":"L","x":57,"a":0,"b":0},
{"r":7,"c":"P","x":0,"a":1,"b":1},{"r":7,"c":"P","x":1,"a":0.6,"b":0.6},{"r":7,"c":"P","x":3,"a":-0.15,"b":-0.2},{"r":7,"c":"P","x":5,"a":-0.05,"b":-0.25},{"r":7,"c":"P","x":7,"a":0.33,"b":0.2},{"r":7,"c":"P","x":9,"a":-0.1,"b":0.25},{"r":7,"c":"P","x":11,"a":-0.2,"b":-0.1},{"r":7,"c":"P","x":13,"a":-0.35,"b":-0.37},{"r":7,"c":"P","x":15,"a":0,"b":0.05},{"r":7,"c":"P","x":18,"a":0.47,"b":0.32},{"r":7,"c":"P","x":21,"a":-0.1,"b":-0.05},{"r":7,"c":"P","x":23,"a":-0.15,"b":-0.1},{"r":7,"c":"P","x":26,"a":0.25,"b":0.2},{"r":7,"c":"P","x":28,"a":-0.05,"b":-0.1},{"r":7,"c":"P","x":31,"a":-0.25,"b":-0.2},{"r":7,"c":"P","x":34,"a":0,"b":0},{"r":7,"c":"P","x":37,"a":0.2,"b":0.15},{"r":7,"c":"P","x":40,"a":0.05,"b":0.05},{"r":7,"c":"P","x":43,"a":-0.15,"b":-0.12},{"r":7,"c":"P","x":46,"a":-0.05,"b":0},{"r":7,"c":"P","x":49,"a":0.1,"b":0.08},{"r":7,"c":"P","x":52,"a":0,"b":0},{"r":7,"c":"P","x":55,"a":-0.1,"b":-0.05},{"r":7,"c":"P","x":58,"a":0,"b":0},
{"r":8,"c":"G","x":0,"a":1,"b":1},{"r":8,"c":"G","x":2,"a":0.42,"b":0.42},{"r":8,"c":"G","x":3,"a":0.05,"b":0.05},{"r":8,"c":"G","x":5,"a":-0.5,"b":-0.5},{"r":8,"c":"G","x":7,"a":-0.74,"b":-0.72},{"r":8,"c":"G","x":9,"a":-0.4,"b":-0.4},{"r":8,"c":"G","x":11,"a":0.08,"b":0.08},{"r":8,"c":"G","x":14,"a":0.65,"b":0.64},{"r":8,"c":"G","x":16,"a":0.4,"b":0.4},{"r":8,"c":"G","x":18,"a":-0.1,"b":-0.1},{"r":8,"c":"G","x":21,"a":-0.53,"b":-0.52},{"r":8,"c":"G","x":23,"a":-0.3,"b":-0.3},{"r":8,"c":"G","x":25,"a":0.1,"b":0.1},{"r":8,"c":"G","x":27,"a":0.4,"b":0.4},{"r":8,"c":"G","x":29,"a":0.3,"b":0.3},{"r":8,"c":"G","x":31,"a":0,"b":0},{"r":8,"c":"G","x":34,"a":-0.37,"b":-0.36},{"r":8,"c":"G","x":37,"a":0,"b":0},{"r":8,"c":"G","x":40,"a":0.26,"b":0.26},{"r":8,"c":"G","x":42,"a":0.2,"b":0.2},{"r":8,"c":"G","x":44,"a":0,"b":0},{"r":8,"c":"G","x":46,"a":-0.12,"b":-0.12},{"r":8,"c":"G","x":48,"a":-0.19,"b":-0.18},{"r":8,"c":"G","x":50,"a":-0.05,"b":-0.05},{"r":8,"c":"G","x":53,"a":0.05,"b":0.05},{"r":8,"c":"G","x":55,"a":0.06,"b":0.06},{"r":8,"c":"G","x":57,"a":0.02,"b":0.02},{"r":8,"c":"G","x":59,"a":0,"b":0},
{"r":8,"c":"B","x":0,"a":1,"b":1},{"r":8,"c":"B","x":1,"a":0.44,"b":0.3},{"r":8,"c":"B","x":2,"a":0.25,"b":0.2},{"r":8,"c":"B","x":4,"a":0.2,"b":0.1},{"r":8,"c":"B","x":6,"a":0.25,"b":0.15},{"r":8,"c":"B","x":8,"a":0.2,"b":0},{"r":8,"c":"B","x":10,"a":0.15,"b":0.05},{"r":8,"c":"B","x":13,"a":0.05,"b":-0.05},{"r":8,"c":"B","x":16,"a":0,"b":0.1},{"r":8,"c":"B","x":19,"a":-0.05,"b":-0.05},{"r":8,"c":"B","x":22,"a":-0.15,"b":-0.1},{"r":8,"c":"B","x":25,"a":-0.1,"b":-0.15},{"r":8,"c":"B","x":28,"a":-0.15,"b":-0.1},{"r":8,"c":"B","x":32,"a":-0.1,"b":-0.05},{"r":8,"c":"B","x":36,"a":-0.05,"b":0.05},{"r":8,"c":"B","x":40,"a":0,"b":0},{"r":8,"c":"B","x":44,"a":-0.05,"b":0.05},{"r":8,"c":"B","x":48,"a":0.05,"b":0.1},{"r":8,"c":"B","x":52,"a":0,"b":0},{"r":8,"c":"B","x":56,"a":0,"b":0.02},{"r":8,"c":"B","x":59,"a":0,"b":0},
{"r":8,"c":"H","x":0,"a":1,"b":1},{"r":8,"c":"H","x":1,"a":-0.05,"b":0.4},{"r":8,"c":"H","x":2,"a":0.25,"b":0.35},{"r":8,"c":"H","x":3,"a":-0.1,"b":0.3},{"r":8,"c":"H","x":4,"a":0.15,"b":0.25},{"r":8,"c":"H","x":6,"a":-0.1,"b":0.15},{"r":8,"c":"H","x":8,"a":0.1,"b":0.05},{"r":8,"c":"H","x":10,"a":-0.15,"b":0},{"r":8,"c":"H","x":13,"a":0.1,"b":0.05},{"r":8,"c":"H","x":16,"a":-0.05,"b":-0.05},{"r":8,"c":"H","x":18,"a":0.1,"b":-0.1},{"r":8,"c":"H","x":20,"a":-0.1,"b":-0.05},{"r":8,"c":"H","x":23,"a":0.05,"b":-0.1},{"r":8,"c":"H","x":26,"a":-0.05,"b":-0.1},{"r":8,"c":"H","x":28,"a":0.1,"b":-0.05},{"r":8,"c":"H","x":30,"a":-0.1,"b":-0.1},{"r":8,"c":"H","x":33,"a":0.05,"b":-0.08},{"r":8,"c":"H","x":36,"a":-0.1,"b":-0.1},{"r":8,"c":"H","x":39,"a":0.05,"b":-0.05},{"r":8,"c":"H","x":42,"a":0.1,"b":-0.1},{"r":8,"c":"H","x":45,"a":-0.05,"b":-0.08},{"r":8,"c":"H","x":48,"a":0.05,"b":-0.05},{"r":8,"c":"H","x":51,"a":-0.05,"b":-0.05},{"r":8,"c":"H","x":54,"a":0.02,"b":-0.05},{"r":8,"c":"H","x":57,"a":0,"b":-0.05},
{"r":8,"c":"L","x":0,"a":1,"b":1},{"r":8,"c":"L","x":1,"a":0.1,"b":0.05},{"r":8,"c":"L","x":2,"a":0.05,"b":-0.15},{"r":8,"c":"L","x":4,"a":-0.1,"b":0.05},{"r":8,"c":"L","x":6,"a":0.05,"b":0},{"r":8,"c":"L","x":8,"a":-0.15,"b":0.05},{"r":8,"c":"L","x":10,"a":0.05,"b":0.15},{"r":8,"c":"L","x":12,"a":0.1,"b":-0.05},{"r":8,"c":"L","x":14,"a":-0.15,"b":0},{"r":8,"c":"L","x":16,"a":0.05,"b":-0.1},{"r":8,"c":"L","x":18,"a":-0.05,"b":0.05},{"r":8,"c":"L","x":21,"a":0.2,"b":0.1},{"r":8,"c":"L","x":24,"a":-0.05,"b":-0.1},{"r":8,"c":"L","x":27,"a":-0.1,"b":0.15},{"r":8,"c":"L","x":30,"a":0.05,"b":-0.05},{"r":8,"c":"L","x":33,"a":-0.05,"b":0},{"r":8,"c":"L","x":36,"a":0,"b":-0.05},{"r":8,"c":"L","x":39,"a":0.05,"b":0.05},{"r":8,"c":"L","x":42,"a":-0.05,"b":-0.05},{"r":8,"c":"L","x":45,"a":0.02,"b":0.05},{"r":8,"c":"L","x":48,"a":0.05,"b":0},{"r":8,"c":"L","x":51,"a":0,"b":-0.05},{"r":8,"c":"L","x":54,"a":0.02,"b":0},{"r":8,"c":"L","x":57,"a":0,"b":0},
{"r":8,"c":"P","x":0,"a":1,"b":1},{"r":8,"c":"P","x":1,"a":0.05,"b":0.05},{"r":8,"c":"P","x":2,"a":0.02,"b":0},{"r":8,"c":"P","x":4,"a":0,"b":-0.1},{"r":8,"c":"P","x":6,"a":-0.05,"b":-0.05},{"r":8,"c":"P","x":8,"a":0.05,"b":0.05},{"r":8,"c":"P","x":10,"a":0,"b":0.03},{"r":8,"c":"P","x":12,"a":-0.05,"b":-0.05},{"r":8,"c":"P","x":15,"a":0.02,"b":0},{"r":8,"c":"P","x":18,"a":-0.02,"b":-0.05},{"r":8,"c":"P","x":21,"a":0,"b":0.02},{"r":8,"c":"P","x":24,"a":0.05,"b":0.05},{"r":8,"c":"P","x":27,"a":-0.02,"b":-0.03},{"r":8,"c":"P","x":30,"a":0.03,"b":0.02},{"r":8,"c":"P","x":33,"a":-0.05,"b":-0.02},{"r":8,"c":"P","x":36,"a":0,"b":0.05},{"r":8,"c":"P","x":39,"a":0.05,"b":0.08},{"r":8,"c":"P","x":42,"a":-0.03,"b":0},{"r":8,"c":"P","x":45,"a":0,"b":-0.05},{"r":8,"c":"P","x":48,"a":-0.05,"b":0.02},{"r":8,"c":"P","x":51,"a":-0.02,"b":-0.05},{"r":8,"c":"P","x":54,"a":-0.05,"b":0},{"r":8,"c":"P","x":57,"a":0.02,"b":0.02},{"r":8,"c":"P","x":59,"a":0,"b":0},
{"r":9,"c":"G","x":0,"a":1,"b":1},{"r":9,"c":"G","x":1,"a":0.6,"b":0.6},{"r":9,"c":"G","x":3,"a":-0.15,"b":-0.3},{"r":9,"c":"G","x":6,"a":-0.41,"b":-0.72},{"r":9,"c":"G","x":8,"a":0,"b":0},{"r":9,"c":"G","x":11,"a":0.44,"b":0.73},{"r":9,"c":"G","x":13,"a":0,"b":0},{"r":9,"c":"G","x":16,"a":-0.35,"b":-0.6},{"r":9,"c":"G","x":18,"a":0,"b":0},{"r":9,"c":"G","x":20,"a":0.28,"b":0.55},{"r":9,"c":"G","x":23,"a":0,"b":0},{"r":9,"c":"G","x":25,"a":-0.29,"b":-0.47},{"r":9,"c":"G","x":28,"a":0,"b":0},{"r":9,"c":"G","x":30,"a":0.24,"b":0.42},{"r":9,"c":"G","x":32,"a":0,"b":0},{"r":9,"c":"G","x":35,"a":-0.17,"b":-0.37},{"r":9,"c":"G","x":37,"a":0,"b":0},{"r":9,"c":"G","x":40,"a":0.16,"b":0.28},{"r":9,"c":"G","x":42,"a":0,"b":0},{"r":9,"c":"G","x":45,"a":-0.11,"b":-0.21},{"r":9,"c":"G","x":47,"a":0,"b":0},{"r":9,"c":"G","x":49,"a":0.08,"b":0.1},{"r":9,"c":"G","x":52,"a":0,"b":0},{"r":9,"c":"G","x":54,"a":-0.05,"b":-0.07},{"r":9,"c":"G","x":57,"a":0,"b":0},{"r":9,"c":"G","x":59,"a":0,"b":0},
{"r":9,"c":"B","x":0,"a":1,"b":1},{"r":9,"c":"B","x":1,"a":0.35,"b":0.35},{"r":9,"c":"B","x":2,"a":0.2,"b":0.32},{"r":9,"c":"B","x":4,"a":0.1,"b":0.3},{"r":9,"c":"B","x":6,"a":0.2,"b":0.35},{"r":9,"c":"B","x":7,"a":0.1,"b":0.2},{"r":9,"c":"B","x":9,"a":0.36,"b":0.3},{"r":9,"c":"B","x":11,"a":0.15,"b":0.15},{"r":9,"c":"B","x":13,"a":0.2,"b":0.12},{"r":9,"c":"B","x":15,"a":0.05,"b":0.1},{"r":9,"c":"B","x":18,"a":0,"b":0},{"r":9,"c":"B","x":21,"a":0.05,"b":-0.02},{"r":9,"c":"B","x":24,"a":-0.1,"b":-0.1},{"r":9,"c":"B","x":27,"a":-0.2,"b":-0.25},{"r":9,"c":"B","x":30,"a":-0.1,"b":-0.12},{"r":9,"c":"B","x":33,"a":-0.15,"b":-0.15},{"r":9,"c":"B","x":36,"a":-0.12,"b":-0.25},{"r":9,"c":"B","x":39,"a":-0.1,"b":-0.1},{"r":9,"c":"B","x":42,"a":-0.08,"b":-0.05},{"r":9,"c":"B","x":45,"a":-0.05,"b":-0.1},{"r":9,"c":"B","x":48,"a":-0.08,"b":-0.05},{"r":9,"c":"B","x":51,"a":-0.05,"b":-0.08},{"r":9,"c":"B","x":54,"a":-0.1,"b":-0.1},{"r":9,"c":"B","x":57,"a":-0.05,"b":-0.05},{"r":9,"c":"B","x":59,"a":-0.02,"b":0},
{"r":9,"c":"H","x":0,"a":1,"b":1},{"r":9,"c":"H","x":1,"a":0.05,"b":0.15},{"r":9,"c":"H","x":2,"a":0.15,"b":0.1},{"r":9,"c":"H","x":4,"a":-0.05,"b":0.05},{"r":9,"c":"H","x":6,"a":0.1,"b":-0.1},{"r":9,"c":"H","x":8,"a":-0.15,"b":0.05},{"r":9,"c":"H","x":10,"a":0.1,"b":-0.1},{"r":9,"c":"H","x":12,"a":0.25,"b":0.15},{"r":9,"c":"H","x":14,"a":-0.05,"b":0.05},{"r":9,"c":"H","x":16,"a":0.1,"b":-0.1},{"r":9,"c":"H","x":18,"a":-0.15,"b":0.1},{"r":9,"c":"H","x":20,"a":0.25,"b":-0.05},{"r":9,"c":"H","x":22,"a":-0.05,"b":0.1},{"r":9,"c":"H","x":24,"a":0.1,"b":-0.05},{"r":9,"c":"H","x":27,"a":-0.15,"b":0.05},{"r":9,"c":"H","x":30,"a":0.1,"b":0},{"r":9,"c":"H","x":33,"a":-0.1,"b":0.1},{"r":9,"c":"H","x":36,"a":0.15,"b":-0.05},{"r":9,"c":"H","x":39,"a":-0.1,"b":0.1},{"r":9,"c":"H","x":42,"a":0.05,"b":-0.15},{"r":9,"c":"H","x":45,"a":-0.05,"b":0.05},{"r":9,"c":"H","x":48,"a":0.05,"b":0},{"r":9,"c":"H","x":51,"a":0,"b":0.05},{"r":9,"c":"H","x":54,"a":-0.05,"b":0},{"r":9,"c":"H","x":57,"a":0,"b":0},
{"r":9,"c":"L","x":0,"a":1,"b":1},{"r":9,"c":"L","x":1,"a":0.1,"b":0.05},{"r":9,"c":"L","x":2,"a":0,"b":-0.1},{"r":9,"c":"L","x":4,"a":0.1,"b":-0.15},{"r":9,"c":"L","x":6,"a":-0.1,"b":0.05},{"r":9,"c":"L","x":8,"a":0.1,"b":0.1},{"r":9,"c":"L","x":10,"a":-0.2,"b":-0.05},{"r":9,"c":"L","x":12,"a":0.1,"b":0.2},{"r":9,"c":"L","x":14,"a":-0.05,"b":-0.1},{"r":9,"c":"L","x":16,"a":-0.15,"b":0.05},{"r":9,"c":"L","x":18,"a":0.1,"b":-0.15},{"r":9,"c":"L","x":20,"a":-0.1,"b":0.1},{"r":9,"c":"L","x":23,"a":0.1,"b":-0.05},{"r":9,"c":"L","x":26,"a":-0.05,"b":0.1},{"r":9,"c":"L","x":29,"a":0.05,"b":0},{"r":9,"c":"L","x":32,"a":-0.1,"b":0.05},{"r":9,"c":"L","x":35,"a":0.05,"b":0.15},{"r":9,"c":"L","x":38,"a":0,"b":-0.05},{"r":9,"c":"L","x":41,"a":0.05,"b":0.05},{"r":9,"c":"L","x":44,"a":-0.05,"b":0},{"r":9,"c":"L","x":47,"a":0.05,"b":0.05},{"r":9,"c":"L","x":50,"a":0,"b":-0.05},{"r":9,"c":"L","x":53,"a":0.05,"b":0.05},{"r":9,"c":"L","x":56,"a":-0.02,"b":-0.05},{"r":9,"c":"L","x":59,"a":0,"b":-0.05},
{"r":9,"c":"P","x":0,"a":1,"b":1},{"r":9,"c":"P","x":1,"a":0.05,"b":0.04},{"r":9,"c":"P","x":3,"a":0.03,"b":0.02},{"r":9,"c":"P","x":6,"a":0,"b":-0.02},{"r":9,"c":"P","x":10,"a":-0.02,"b":-0.03},{"r":9,"c":"P","x":14,"a":-0.03,"b":-0.05},{"r":9,"c":"P","x":18,"a":0,"b":-0.02},{"r":9,"c":"P","x":22,"a":-0.03,"b":-0.03},{"r":9,"c":"P","x":26,"a":-0.02,"b":-0.01},{"r":9,"c":"P","x":30,"a":-0.04,"b":-0.03},{"r":9,"c":"P","x":34,"a":-0.02,"b":-0.04},{"r":9,"c":"P","x":38,"a":-0.03,"b":-0.03},{"r":9,"c":"P","x":42,"a":-0.03,"b":-0.02},{"r":9,"c":"P","x":46,"a":-0.02,"b":-0.03},{"r":9,"c":"P","x":50,"a":-0.03,"b":-0.02},{"r":9,"c":"P","x":54,"a":0,"b":0},{"r":9,"c":"P","x":58,"a":0.02,"b":0},
{"r":10,"c":"G","x":0,"a":1,"b":1},{"r":10,"c":"G","x":2,"a":0.4,"b":0.4},{"r":10,"c":"G","x":4,"a":-0.52,"b":-0.68},{"r":10,"c":"G","x":6,"a":-0.1,"b":-0.15},{"r":10,"c":"G","x":8,"a":0.4,"b":0.48},{"r":10,"c":"G","x":10,"a":0.1,"b":0.1},{"r":10,"c":"G","x":12,"a":-0.25,"b":-0.25},{"r":10,"c":"G","x":14,"a":-0.05,"b":-0.05},{"r":10,"c":"G","x":16,"a":0.07,"b":0.07},{"r":10,"c":"G","x":18,"a":-0.09,"b":-0.09},{"r":10,"c":"G","x":21,"a":0.07,"b":0.07},{"r":10,"c":"G","x":23,"a":-0.05,"b":-0.05},{"r":10,"c":"G","x":25,"a":-0.2,"b":-0.2},{"r":10,"c":"G","x":27,"a":0,"b":0},{"r":10,"c":"G","x":29,"a":0.16,"b":0.16},{"r":10,"c":"G","x":32,"a":-0.17,"b":-0.17},{"r":10,"c":"G","x":34,"a":0,"b":0},{"r":10,"c":"G","x":36,"a":0.17,"b":0.17},{"r":10,"c":"G","x":38,"a":0,"b":0},{"r":10,"c":"G","x":40,"a":-0.2,"b":-0.2},{"r":10,"c":"G","x":42,"a":0.05,"b":0.05},{"r":10,"c":"G","x":44,"a":0.2,"b":0.22},{"r":10,"c":"G","x":47,"a":-0.2,"b":-0.2},{"r":10,"c":"G","x":49,"a":0,"b":0},{"r":10,"c":"G","x":51,"a":0.16,"b":0.16},{"r":10,"c":"G","x":53,"a":0,"b":0},{"r":10,"c":"G","x":55,"a":-0.11,"b":-0.11},{"r":10,"c":"G","x":57,"a":-0.03,"b":-0.03},{"r":10,"c":"G","x":59,"a":0.03,"b":0.03},
{"r":10,"c":"B","x":0,"a":1,"b":1},{"r":10,"c":"B","x":1,"a":0.75,"b":0.7},{"r":10,"c":"B","x":2,"a":0.5,"b":0.55},{"r":10,"c":"B","x":4,"a":0.2,"b":0.3},{"r":10,"c":"B","x":6,"a":-0.1,"b":-0.05},{"r":10,"c":"B","x":8,"a":-0.2,"b":-0.2},{"r":10,"c":"B","x":9,"a":-0.29,"b":-0.1},{"r":10,"c":"B","x":11,"a":0,"b":0.05},{"r":10,"c":"B","x":13,"a":0.18,"b":0.15},{"r":10,"c":"B","x":15,"a":0.1,"b":0.12},{"r":10,"c":"B","x":18,"a":-0.05,"b":-0.05},{"r":10,"c":"B","x":22,"a":-0.23,"b":0},{"r":10,"c":"B","x":25,"a":-0.05,"b":0.03},{"r":10,"c":"B","x":28,"a":0.05,"b":0.05},{"r":10,"c":"B","x":31,"a":0,"b":0},{"r":10,"c":"B","x":34,"a":-0.05,"b":0},{"r":10,"c":"B","x":38,"a":0,"b":-0.05},{"r":10,"c":"B","x":41,"a":-0.05,"b":-0.1},{"r":10,"c":"B","x":44,"a":-0.1,"b":-0.12},{"r":10,"c":"B","x":48,"a":0,"b":-0.05},{"r":10,"c":"B","x":52,"a":0,"b":0},{"r":10,"c":"B","x":56,"a":0,"b":0},{"r":10,"c":"B","x":59,"a":0,"b":0},
{"r":10,"c":"H","x":0,"a":1,"b":1},{"r":10,"c":"H","x":1,"a":0.2,"b":0.15},{"r":10,"c":"H","x":2,"a":0,"b":0.1},{"r":10,"c":"H","x":4,"a":-0.1,"b":-0.1},{"r":10,"c":"H","x":6,"a":0.1,"b":-0.05},{"r":10,"c":"H","x":8,"a":-0.15,"b":0.1},{"r":10,"c":"H","x":10,"a":0.05,"b":-0.1},{"r":10,"c":"H","x":12,"a":0.1,"b":0.05},{"r":10,"c":"H","x":14,"a":-0.05,"b":-0.05},{"r":10,"c":"H","x":16,"a":0.1,"b":0.1},{"r":10,"c":"H","x":18,"a":0,"b":-0.05},{"r":10,"c":"H","x":20,"a":0.1,"b":0},{"r":10,"c":"H","x":22,"a":-0.05,"b":0.1},{"r":10,"c":"H","x":25,"a":-0.1,"b":-0.05},{"r":10,"c":"H","x":28,"a":0,"b":0.05},{"r":10,"c":"H","x":31,"a":-0.15,"b":-0.1},{"r":10,"c":"H","x":34,"a":-0.05,"b":0.05},{"r":10,"c":"H","x":37,"a":0.1,"b":0},{"r":10,"c":"H","x":40,"a":-0.1,"b":0.05},{"r":10,"c":"H","x":43,"a":0,"b":-0.1},{"r":10,"c":"H","x":46,"a":0.05,"b":0},{"r":10,"c":"H","x":49,"a":-0.05,"b":0},{"r":10,"c":"H","x":52,"a":0.05,"b":0.05},{"r":10,"c":"H","x":55,"a":0,"b":0},{"r":10,"c":"H","x":58,"a":0,"b":0},
{"r":10,"c":"L","x":0,"a":1,"b":1},{"r":10,"c":"L","x":1,"a":0.15,"b":0.48},{"r":10,"c":"L","x":2,"a":0.2,"b":0.3},{"r":10,"c":"L","x":4,"a":0,"b":0.2},{"r":10,"c":"L","x":6,"a":0.15,"b":0.05},{"r":10,"c":"L","x":8,"a":0,"b":0.15},{"r":10,"c":"L","x":10,"a":0.05,"b":0},{"r":10,"c":"L","x":12,"a":-0.05,"b":0.28},{"r":10,"c":"L","x":14,"a":0,"b":0.05},{"r":10,"c":"L","x":17,"a":-0.05,"b":-0.05},{"r":10,"c":"L","x":20,"a":-0.1,"b":-0.1},{"r":10,"c":"L","x":22,"a":-0.1,"b":-0.1},{"r":10,"c":"L","x":24,"a":-0.15,"b":-0.3},{"r":10,"c":"L","x":27,"a":-0.1,"b":-0.15},{"r":10,"c":"L","x":30,"a":-0.05,"b":-0.05},{"r":10,"c":"L","x":33,"a":-0.1,"b":-0.1},{"r":10,"c":"L","x":36,"a":0.05,"b":-0.05},{"r":10,"c":"L","x":40,"a":0.1,"b":-0.1},{"r":10,"c":"L","x":44,"a":0.05,"b":0},{"r":10,"c":"L","x":48,"a":0,"b":0.05},{"r":10,"c":"L","x":52,"a":0.05,"b":0.05},{"r":10,"c":"L","x":56,"a":0,"b":0},{"r":10,"c":"L","x":59,"a":0,"b":0},
{"r":10,"c":"P","x":0,"a":1,"b":1},{"r":10,"c":"P","x":1,"a":0.5,"b":0.65},{"r":10,"c":"P","x":2,"a":0.3,"b":0.4},{"r":10,"c":"P","x":3,"a":0.1,"b":0.3},{"r":10,"c":"P","x":5,"a":0.15,"b":0.15},{"r":10,"c":"P","x":7,"a":0.05,"b":0.1},{"r":10,"c":"P","x":10,"a":0.12,"b":0.15},{"r":10,"c":"P","x":12,"a":0.05,"b":0.1},{"r":10,"c":"P","x":14,"a":-0.05,"b":0},{"r":10,"c":"P","x":16,"a":-0.3,"b":-0.1},{"r":10,"c":"P","x":18,"a":-0.15,"b":-0.2},{"r":10,"c":"P","x":20,"a":-0.1,"b":-0.15},{"r":10,"c":"P","x":23,"a":-0.05,"b":-0.05},{"r":10,"c":"P","x":26,"a":-0.12,"b":-0.1},{"r":10,"c":"P","x":29,"a":-0.1,"b":-0.15},{"r":10,"c":"P","x":32,"a":0.05,"b":-0.05},{"r":10,"c":"P","x":35,"a":-0.05,"b":0},{"r":10,"c":"P","x":38,"a":0,"b":-0.02},{"r":10,"c":"P","x":42,"a":0.08,"b":0.05},{"r":10,"c":"P","x":46,"a":-0.05,"b":-0.05},{"r":10,"c":"P","x":50,"a":-0.12,"b":-0.12},{"r":10,"c":"P","x":53,"a":-0.1,"b":-0.12},{"r":10,"c":"P","x":56,"a":-0.02,"b":-0.05},{"r":10,"c":"P","x":59,"a":0,"b":0},
{"r":11,"c":"G","x":0,"a":1,"b":1},{"r":11,"c":"G","x":2,"a":0.5,"b":0.5},{"r":11,"c":"G","x":4,"a":-0.15,"b":-0.15},{"r":11,"c":"G","x":6,"a":-0.3,"b":-0.28},{"r":11,"c":"G","x":8,"a":-0.36,"b":-0.3},{"r":11,"c":"G","x":10,"a":-0.1,"b":-0.05},{"r":11,"c":"G","x":12,"a":0.4,"b":0.44},{"r":11,"c":"G","x":14,"a":0.3,"b":0.35},{"r":11,"c":"G","x":16,"a":-0.05,"b":-0.05},{"r":11,"c":"G","x":18,"a":-0.2,"b":-0.18},{"r":11,"c":"G","x":20,"a":-0.22,"b":-0.2},{"r":11,"c":"G","x":22,"a":-0.15,"b":-0.12},{"r":11,"c":"G","x":24,"a":0.1,"b":0.15},{"r":11,"c":"G","x":26,"a":0.34,"b":0.35},{"r":11,"c":"G","x":28,"a":0.2,"b":0.2},{"r":11,"c":"G","x":30,"a":-0.05,"b":-0.05},{"r":11,"c":"G","x":32,"a":-0.2,"b":-0.2},{"r":11,"c":"G","x":34,"a":-0.24,"b":-0.22},{"r":11,"c":"G","x":36,"a":-0.1,"b":-0.1},{"r":11,"c":"G","x":38,"a":0.15,"b":0.15},{"r":11,"c":"G","x":40,"a":0.25,"b":0.23},{"r":11,"c":"G","x":42,"a":0.1,"b":0.1},{"r":11,"c":"G","x":44,"a":-0.08,"b":-0.08},{"r":11,"c":"G","x":46,"a":-0.15,"b":-0.13},{"r":11,"c":"G","x":48,"a":-0.05,"b":-0.05},{"r":11,"c":"G","x":50,"a":0.08,"b":0.09},{"r":11,"c":"G","x":52,"a":0.05,"b":0.05},{"r":11,"c":"G","x":54,"a":0,"b":0},{"r":11,"c":"G","x":56,"a":-0.02,"b":-0.02},{"r":11,"c":"G","x":59,"a":0,"b":0},
{"r":11,"c":"B","x":0,"a":1,"b":1},{"r":11,"c":"B","x":1,"a":0.82,"b":0.5},{"r":11,"c":"B","x":2,"a":0.75,"b":0.3},{"r":11,"c":"B","x":3,"a":0.72,"b":0.35},{"r":11,"c":"B","x":5,"a":0.65,"b":0.2},{"r":11,"c":"B","x":6,"a":0.62,"b":0.3},{"r":11,"c":"B","x":8,"a":0.55,"b":0.1},{"r":11,"c":"B","x":10,"a":0.5,"b":0.2},{"r":11,"c":"B","x":12,"a":0.42,"b":0.1},{"r":11,"c":"B","x":14,"a":0.35,"b":0.1},{"r":11,"c":"B","x":16,"a":0.25,"b":0.15},{"r":11,"c":"B","x":18,"a":0.15,"b":0},{"r":11,"c":"B","x":21,"a":0.05,"b":0.05},{"r":11,"c":"B","x":24,"a":0,"b":-0.05},{"r":11,"c":"B","x":28,"a":-0.1,"b":0.05},{"r":11,"c":"B","x":31,"a":-0.15,"b":-0.05},{"r":11,"c":"B","x":33,"a":-0.2,"b":-0.1},{"r":11,"c":"B","x":37,"a":-0.3,"b":-0.05},{"r":11,"c":"B","x":41,"a":-0.4,"b":-0.1},{"r":11,"c":"B","x":44,"a":-0.35,"b":-0.15},{"r":11,"c":"B","x":47,"a":-0.3,"b":-0.1},{"r":11,"c":"B","x":50,"a":-0.2,"b":-0.15},{"r":11,"c":"B","x":53,"a":-0.15,"b":-0.1},{"r":11,"c":"B","x":56,"a":-0.08,"b":-0.05},{"r":11,"c":"B","x":59,"a":0,"b":0},
{"r":11,"c":"H","x":0,"a":1,"b":1},{"r":11,"c":"H","x":1,"a":0.1,"b":0.3},{"r":11,"c":"H","x":2,"a":0.15,"b":0.3},{"r":11,"c":"H","x":4,"a":0.05,"b":0.3},{"r":11,"c":"H","x":6,"a":-0.05,"b":0.25},{"r":11,"c":"H","x":8,"a":-0.1,"b":0.2},{"r":11,"c":"H","x":10,"a":-0.25,"b":0.1},{"r":11,"c":"H","x":12,"a":-0.1,"b":0},{"r":11,"c":"H","x":13,"a":-0.3,"b":-0.02},{"r":11,"c":"H","x":15,"a":0,"b":-0.05},{"r":11,"c":"H","x":18,"a":0.2,"b":-0.1},{"r":11,"c":"H","x":20,"a":0.05,"b":-0.15},{"r":11,"c":"H","x":22,"a":0.2,"b":-0.2},{"r":11,"c":"H","x":24,"a":0.05,"b":-0.15},{"r":11,"c":"H","x":27,"a":-0.05,"b":-0.1},{"r":11,"c":"H","x":30,"a":0,"b":-0.05},{"r":11,"c":"H","x":33,"a":-0.05,"b":-0.02},{"r":11,"c":"H","x":36,"a":0,"b":0},{"r":11,"c":"H","x":40,"a":0.02,"b":-0.02},{"r":11,"c":"H","x":44,"a":0,"b":-0.02},{"r":11,"c":"H","x":48,"a":0,"b":-0.02},{"r":11,"c":"H","x":52,"a":-0.02,"b":-0.05},{"r":11,"c":"H","x":55,"a":0,"b":-0.1},{"r":11,"c":"H","x":58,"a":0,"b":0},
{"r":11,"c":"L","x":0,"a":1,"b":1},{"r":11,"c":"L","x":1,"a":0.05,"b":0},{"r":11,"c":"L","x":2,"a":-0.1,"b":-0.1},{"r":11,"c":"L","x":4,"a":0.1,"b":-0.05},{"r":11,"c":"L","x":6,"a":-0.05,"b":0.15},{"r":11,"c":"L","x":8,"a":0.15,"b":-0.05},{"r":11,"c":"L","x":10,"a":-0.05,"b":0},{"r":11,"c":"L","x":12,"a":0,"b":-0.1},{"r":11,"c":"L","x":14,"a":-0.05,"b":0.1},{"r":11,"c":"L","x":16,"a":0.05,"b":-0.05},{"r":11,"c":"L","x":18,"a":-0.1,"b":0.05},{"r":11,"c":"L","x":20,"a":0.05,"b":-0.15},{"r":11,"c":"L","x":22,"a":-0.05,"b":0.2},{"r":11,"c":"L","x":24,"a":0,"b":-0.05},{"r":11,"c":"L","x":27,"a":-0.1,"b":0},{"r":11,"c":"L","x":30,"a":0.05,"b":0.1},{"r":11,"c":"L","x":33,"a":0,"b":-0.05},{"r":11,"c":"L","x":36,"a":0.12,"b":0.05},{"r":11,"c":"L","x":39,"a":0,"b":-0.05},{"r":11,"c":"L","x":42,"a":0.05,"b":0.1},{"r":11,"c":"L","x":45,"a":0,"b":-0.05},{"r":11,"c":"L","x":48,"a":0.05,"b":0.05},{"r":11,"c":"L","x":51,"a":0,"b":0},{"r":11,"c":"L","x":54,"a":0.02,"b":-0.02},{"r":11,"c":"L","x":57,"a":0,"b":0},
{"r":11,"c":"P","x":0,"a":1,"b":1},{"r":11,"c":"P","x":2,"a":0.1,"b":0.4},{"r":11,"c":"P","x":4,"a":-0.1,"b":0.05},{"r":11,"c":"P","x":5,"a":-0.2,"b":0},{"r":11,"c":"P","x":7,"a":0.1,"b":0.05},{"r":11,"c":"P","x":9,"a":0.3,"b":-0.05},{"r":11,"c":"P","x":11,"a":0.2,"b":-0.1},{"r":11,"c":"P","x":13,"a":-0.05,"b":-0.15},{"r":11,"c":"P","x":15,"a":-0.15,"b":-0.25},{"r":11,"c":"P","x":17,"a":0,"b":-0.2},{"r":11,"c":"P","x":19,"a":0.1,"b":-0.15},{"r":11,"c":"P","x":22,"a":-0.05,"b":0},{"r":11,"c":"P","x":26,"a":-0.24,"b":0.1},{"r":11,"c":"P","x":29,"a":0.05,"b":0.15},{"r":11,"c":"P","x":31,"a":0.1,"b":0.15},{"r":11,"c":"P","x":35,"a":0,"b":0.05},{"r":11,"c":"P","x":38,"a":-0.05,"b":-0.05},{"r":11,"c":"P","x":42,"a":0,"b":0.05},{"r":11,"c":"P","x":47,"a":-0.05,"b":-0.05},{"r":11,"c":"P","x":50,"a":0,"b":0},{"r":11,"c":"P","x":52,"a":-0.1,"b":-0.05},{"r":11,"c":"P","x":55,"a":-0.05,"b":0},{"r":11,"c":"P","x":58,"a":0,"b":0},
{"r":12,"c":"G","x":0,"a":1,"b":1},{"r":12,"c":"G","x":2,"a":0.55,"b":0.55},{"r":12,"c":"G","x":4,"a":-0.05,"b":-0.05},{"r":12,"c":"G","x":6,"a":-0.4,"b":-0.42},{"r":12,"c":"G","x":8,"a":-0.62,"b":-0.64},{"r":12,"c":"G","x":10,"a":-0.65,"b":-0.67},{"r":12,"c":"G","x":12,"a":-0.45,"b":-0.46},{"r":12,"c":"G","x":14,"a":-0.08,"b":-0.08},{"r":12,"c":"G","x":16,"a":0.25,"b":0.25},{"r":12,"c":"G","x":18,"a":0.45,"b":0.45},{"r":12,"c":"G","x":20,"a":0.47,"b":0.48},{"r":12,"c":"G","x":22,"a":0.3,"b":0.3},{"r":12,"c":"G","x":24,"a":0.05,"b":0.05},{"r":12,"c":"G","x":26,"a":-0.22,"b":-0.22},{"r":12,"c":"G","x":28,"a":-0.4,"b":-0.41},{"r":12,"c":"G","x":30,"a":-0.42,"b":-0.43},{"r":12,"c":"G","x":32,"a":-0.25,"b":-0.25},{"r":12,"c":"G","x":34,"a":0,"b":0},{"r":12,"c":"G","x":36,"a":0.25,"b":0.25},{"r":12,"c":"G","x":38,"a":0.36,"b":0.36},{"r":12,"c":"G","x":40,"a":0.3,"b":0.3},{"r":12,"c":"G","x":42,"a":0.08,"b":0.08},{"r":12,"c":"G","x":44,"a":-0.12,"b":-0.12},{"r":12,"c":"G","x":46,"a":-0.22,"b":-0.22},{"r":12,"c":"G","x":48,"a":-0.15,"b":-0.15},{"r":12,"c":"G","x":50,"a":0,"b":0},{"r":12,"c":"G","x":52,"a":0.07,"b":0.07},{"r":12,"c":"G","x":54,"a":0.09,"b":0.09},{"r":12,"c":"G","x":56,"a":0.05,"b":0.05},{"r":12,"c":"G","x":58,"a":0,"b":0},
{"r":12,"c":"B","x":0,"a":1,"b":1},{"r":12,"c":"B","x":1,"a":0.29,"b":0.9},{"r":12,"c":"B","x":2,"a":0.45,"b":0.85},{"r":12,"c":"B","x":4,"a":0.25,"b":0.78},{"r":12,"c":"B","x":5,"a":0.3,"b":0.75},{"r":12,"c":"B","x":7,"a":0.15,"b":0.68},{"r":12,"c":"B","x":8,"a":0.2,"b":0.62},{"r":12,"c":"B","x":10,"a":0.05,"b":0.55},{"r":12,"c":"B","x":11,"a":0.15,"b":0.5},{"r":12,"c":"B","x":13,"a":0,"b":0.4},{"r":12,"c":"B","x":15,"a":0.05,"b":0.3},{"r":12,"c":"B","x":17,"a":0,"b":0.2},{"r":12,"c":"B","x":19,"a":-0.05,"b":0.1},{"r":12,"c":"B","x":21,"a":-0.1,"b":0},{"r":12,"c":"B","x":23,"a":-0.2,"b":-0.1},{"r":12,"c":"B","x":25,"a":-0.15,"b":-0.2},{"r":12,"c":"B","x":27,"a":-0.2,"b":-0.28},{"r":12,"c":"B","x":29,"a":-0.1,"b":-0.35},{"r":12,"c":"B","x":31,"a":-0.2,"b":-0.4},{"r":12,"c":"B","x":33,"a":-0.15,"b":-0.42},{"r":12,"c":"B","x":35,"a":-0.2,"b":-0.4},{"r":12,"c":"B","x":38,"a":-0.1,"b":-0.32},{"r":12,"c":"B","x":42,"a":-0.05,"b":-0.2},{"r":12,"c":"B","x":46,"a":0,"b":-0.1},{"r":12,"c":"B","x":50,"a":0,"b":-0.02},{"r":12,"c":"B","x":53,"a":0.02,"b":0.02},{"r":12,"c":"B","x":56,"a":0,"b":0.01},{"r":12,"c":"B","x":59,"a":0,"b":0},
{"r":12,"c":"H","x":0,"a":1,"b":1},{"r":12,"c":"H","x":1,"a":-0.05,"b":0.05},{"r":12,"c":"H","x":2,"a":0.05,"b":-0.1},{"r":12,"c":"H","x":4,"a":-0.08,"b":0.05},{"r":12,"c":"H","x":6,"a":0.1,"b":-0.1},{"r":12,"c":"H","x":8,"a":0,"b":0.05},{"r":12,"c":"H","x":10,"a":0.1,"b":-0.1},{"r":12,"c":"H","x":12,"a":-0.05,"b":0},{"r":12,"c":"H","x":14,"a":0.05,"b":0.05},{"r":12,"c":"H","x":16,"a":-0.05,"b":-0.1},{"r":12,"c":"H","x":18,"a":0,"b":0.05},{"r":12,"c":"H","x":20,"a":0.05,"b":-0.05},{"r":12,"c":"H","x":22,"a":-0.05,"b":0},{"r":12,"c":"H","x":24,"a":0,"b":-0.05},{"r":12,"c":"H","x":27,"a":0.05,"b":0.05},{"r":12,"c":"H","x":30,"a":-0.05,"b":-0.05},{"r":12,"c":"H","x":33,"a":0.05,"b":0},{"r":12,"c":"H","x":36,"a":-0.05,"b":0.05},{"r":12,"c":"H","x":39,"a":0,"b":0.1},{"r":12,"c":"H","x":42,"a":0.05,"b":-0.05},{"r":12,"c":"H","x":45,"a":-0.05,"b":0.05},{"r":12,"c":"H","x":48,"a":0.05,"b":-0.05},{"r":12,"c":"H","x":51,"a":0,"b":0.05},{"r":12,"c":"H","x":54,"a":0.02,"b":-0.02},{"r":12,"c":"H","x":57,"a":0,"b":0},
{"r":12,"c":"L","x":0,"a":1,"b":1},{"r":12,"c":"L","x":1,"a":0.25,"b":0.2},{"r":12,"c":"L","x":2,"a":0.15,"b":0.1},{"r":12,"c":"L","x":4,"a":0.2,"b":0.15},{"r":12,"c":"L","x":6,"a":0.1,"b":0.1},{"r":12,"c":"L","x":8,"a":0.15,"b":0.05},{"r":12,"c":"L","x":10,"a":0,"b":-0.05},{"r":12,"c":"L","x":12,"a":0.05,"b":0.1},{"r":12,"c":"L","x":15,"a":-0.05,"b":0},{"r":12,"c":"L","x":18,"a":-0.1,"b":-0.1},{"r":12,"c":"L","x":21,"a":-0.2,"b":-0.05},{"r":12,"c":"L","x":24,"a":0,"b":0.1},{"r":12,"c":"L","x":27,"a":-0.15,"b":-0.05},{"r":12,"c":"L","x":30,"a":-0.05,"b":0.1},{"r":12,"c":"L","x":34,"a":-0.05,"b":-0.1},{"r":12,"c":"L","x":37,"a":0,"b":0},{"r":12,"c":"L","x":40,"a":-0.05,"b":-0.1},{"r":12,"c":"L","x":45,"a":-0.1,"b":-0.05},{"r":12,"c":"L","x":48,"a":0,"b":-0.05},{"r":12,"c":"L","x":52,"a":-0.05,"b":0},{"r":12,"c":"L","x":56,"a":0,"b":-0.02},{"r":12,"c":"L","x":59,"a":0,"b":0},
{"r":12,"c":"P","x":0,"a":1,"b":1},{"r":12,"c":"P","x":1,"a":0.3,"b":0.5},{"r":12,"c":"P","x":2,"a":0.27,"b":0.2},{"r":12,"c":"P","x":3,"a":0.25,"b":0.02},{"r":12,"c":"P","x":5,"a":0.3,"b":0.2},{"r":12,"c":"P","x":6,"a":0.28,"b":0.35},{"r":12,"c":"P","x":8,"a":0.15,"b":0.25},{"r":12,"c":"P","x":10,"a":0.05,"b":0.1},{"r":12,"c":"P","x":12,"a":0.12,"b":0.2},{"r":12,"c":"P","x":14,"a":0.05,"b":0.05},{"r":12,"c":"P","x":17,"a":0,"b":0},{"r":12,"c":"P","x":20,"a":-0.1,"b":-0.05},{"r":12,"c":"P","x":23,"a":-0.2,"b":-0.1},{"r":12,"c":"P","x":26,"a":-0.15,"b":-0.15},{"r":12,"c":"P","x":29,"a":-0.22,"b":-0.1},{"r":12,"c":"P","x":32,"a":-0.2,"b":-0.15},{"r":12,"c":"P","x":35,"a":-0.25,"b":-0.05},{"r":12,"c":"P","x":38,"a":-0.2,"b":-0.1},{"r":12,"c":"P","x":42,"a":-0.15,"b":-0.1},{"r":12,"c":"P","x":46,"a":-0.1,"b":-0.05},{"r":12,"c":"P","x":50,"a":-0.05,"b":-0.05},{"r":12,"c":"P","x":54,"a":0,"b":0},{"r":12,"c":"P","x":58,"a":0,"b":0},
{"r":13,"c":"G","x":0,"a":1,"b":1},{"r":13,"c":"G","x":4,"a":-0.4,"b":-0.77},{"r":13,"c":"G","x":8,"a":0.46,"b":0.82},{"r":13,"c":"G","x":11,"a":-0.52,"b":-0.65},{"r":13,"c":"G","x":15,"a":0.29,"b":0.66},{"r":13,"c":"G","x":18,"a":-0.44,"b":-0.6},{"r":13,"c":"G","x":22,"a":0.27,"b":0.56},{"r":13,"c":"G","x":25,"a":-0.32,"b":-0.46},{"r":13,"c":"G","x":29,"a":0.29,"b":0.48},{"r":13,"c":"G","x":33,"a":-0.28,"b":-0.42},{"r":13,"c":"G","x":36,"a":0.21,"b":0.38},{"r":13,"c":"G","x":40,"a":-0.2,"b":-0.3},{"r":13,"c":"G","x":43,"a":0.11,"b":0.29},{"r":13,"c":"G","x":47,"a":-0.15,"b":-0.2},{"r":13,"c":"G","x":50,"a":0.05,"b":0.16},{"r":13,"c":"G","x":54,"a":-0.07,"b":-0.1},{"r":13,"c":"G","x":58,"a":0.02,"b":0.05},{"r":13,"c":"G","x":59,"a":0,"b":0},
{"r":13,"c":"B","x":0,"a":1,"b":1},{"r":13,"c":"B","x":1,"a":0.05,"b":0.1},{"r":13,"c":"B","x":2,"a":0.1,"b":0.15},{"r":13,"c":"B","x":4,"a":-0.1,"b":0},{"r":13,"c":"B","x":6,"a":0.12,"b":0.15},{"r":13,"c":"B","x":8,"a":-0.15,"b":0.05},{"r":13,"c":"B","x":10,"a":0.1,"b":0.15},{"r":13,"c":"B","x":12,"a":-0.05,"b":-0.05},{"r":13,"c":"B","x":14,"a":0.05,"b":0.1},{"r":13,"c":"B","x":17,"a":0.2,"b":0.05},{"r":13,"c":"B","x":20,"a":0,"b":-0.05},{"r":13,"c":"B","x":23,"a":-0.05,"b":-0.1},{"r":13,"c":"B","x":26,"a":0,"b":0},{"r":13,"c":"B","x":29,"a":-0.05,"b":-0.15},{"r":13,"c":"B","x":31,"a":-0.28,"b":-0.05},{"r":13,"c":"B","x":34,"a":0,"b":0},{"r":13,"c":"B","x":37,"a":0.05,"b":-0.1},{"r":13,"c":"B","x":40,"a":-0.05,"b":0.05},{"r":13,"c":"B","x":43,"a":0.1,"b":0},{"r":13,"c":"B","x":46,"a":-0.05,"b":-0.05},{"r":13,"c":"B","x":49,"a":0,"b":0.05},{"r":13,"c":"B","x":52,"a":0.05,"b":-0.05},{"r":13,"c":"B","x":55,"a":-0.05,"b":0.02},{"r":13,"c":"B","x":58,"a":0,"b":0},
{"r":13,"c":"H","x":0,"a":1,"b":1},{"r":13,"c":"H","x":1,"a":-0.2,"b":0.46},{"r":13,"c":"H","x":2,"a":0.3,"b":0.4},{"r":13,"c":"H","x":3,"a":-0.1,"b":0.35},{"r":13,"c":"H","x":5,"a":0.15,"b":0.3},{"r":13,"c":"H","x":7,"a":-0.15,"b":0.25},{"r":13,"c":"H","x":9,"a":0.1,"b":0.12},{"r":13,"c":"H","x":11,"a":-0.1,"b":0.15},{"r":13,"c":"H","x":13,"a":0,"b":0},{"r":13,"c":"H","x":15,"a":-0.15,"b":-0.05},{"r":13,"c":"H","x":17,"a":0.05,"b":-0.1},{"r":13,"c":"H","x":19,"a":-0.2,"b":-0.15},{"r":13,"c":"H","x":22,"a":0.05,"b":-0.28},{"r":13,"c":"H","x":24,"a":-0.05,"b":-0.22},{"r":13,"c":"H","x":26,"a":0.1,"b":-0.2},{"r":13,"c":"H","x":28,"a":-0.05,"b":-0.15},{"r":13,"c":"H","x":30,"a":0.1,"b":-0.18},{"r":13,"c":"H","x":32,"a":0,"b":-0.2},{"r":13,"c":"H","x":35,"a":0.05,"b":-0.15},{"r":13,"c":"H","x":37,"a":0.1,"b":-0.2},{"r":13,"c":"H","x":40,"a":-0.05,"b":-0.05},{"r":13,"c":"H","x":43,"a":0.05,"b":0},{"r":13,"c":"H","x":46,"a":-0.05,"b":0},{"r":13,"c":"H","x":50,"a":0.05,"b":0.05},{"r":13,"c":"H","x":54,"a":0,"b":0},{"r":13,"c":"H","x":58,"a":0,"b":0},
{"r":13,"c":"L","x":0,"a":1,"b":1},{"r":13,"c":"L","x":1,"a":0.5,"b":0.8},{"r":13,"c":"L","x":2,"a":0.48,"b":0.75},{"r":13,"c":"L","x":4,"a":0.45,"b":0.65},{"r":13,"c":"L","x":6,"a":0.4,"b":0.55},{"r":13,"c":"L","x":8,"a":0.35,"b":0.45},{"r":13,"c":"L","x":10,"a":0.3,"b":0.35},{"r":13,"c":"L","x":12,"a":0.22,"b":0.3},{"r":13,"c":"L","x":14,"a":0.1,"b":0.2},{"r":13,"c":"L","x":16,"a":0.05,"b":0.1},{"r":13,"c":"L","x":18,"a":0,"b":0},{"r":13,"c":"L","x":20,"a":-0.1,"b":-0.05},{"r":13,"c":"L","x":22,"a":-0.12,"b":-0.1},{"r":13,"c":"L","x":24,"a":-0.2,"b":-0.15},{"r":13,"c":"L","x":26,"a":-0.25,"b":-0.2},{"r":13,"c":"L","x":28,"a":-0.22,"b":-0.27},{"r":13,"c":"L","x":32,"a":-0.2,"b":-0.28},{"r":13,"c":"L","x":35,"a":-0.15,"b":-0.25},{"r":13,"c":"L","x":38,"a":-0.15,"b":-0.27},{"r":13,"c":"L","x":42,"a":-0.12,"b":-0.25},{"r":13,"c":"L","x":46,"a":-0.08,"b":-0.27},{"r":13,"c":"L","x":49,"a":-0.05,"b":-0.25},{"r":13,"c":"L","x":52,"a":-0.02,"b":-0.2},{"r":13,"c":"L","x":56,"a":0,"b":-0.1},{"r":13,"c":"L","x":59,"a":0,"b":0},
{"r":13,"c":"P","x":0,"a":1,"b":1},{"r":13,"c":"P","x":1,"a":0.3,"b":0.3},{"r":13,"c":"P","x":2,"a":0.25,"b":-0.25},{"r":13,"c":"P","x":4,"a":-0.05,"b":-0.1},{"r":13,"c":"P","x":6,"a":-0.05,"b":0},{"r":13,"c":"P","x":8,"a":-0.1,"b":-0.05},{"r":13,"c":"P","x":11,"a":0,"b":-0.1},{"r":13,"c":"P","x":14,"a":-0.15,"b":0.05},{"r":13,"c":"P","x":17,"a":0.05,"b":-0.1},{"r":13,"c":"P","x":20,"a":-0.1,"b":-0.05},{"r":13,"c":"P","x":23,"a":0.1,"b":0.1},{"r":13,"c":"P","x":26,"a":-0.05,"b":-0.05},{"r":13,"c":"P","x":29,"a":0.15,"b":0.05},{"r":13,"c":"P","x":32,"a":-0.05,"b":0.1},{"r":13,"c":"P","x":35,"a":0.15,"b":-0.1},{"r":13,"c":"P","x":38,"a":-0.1,"b":0.1},{"r":13,"c":"P","x":41,"a":0.15,"b":-0.05},{"r":13,"c":"P","x":44,"a":0,"b":0.05},{"r":13,"c":"P","x":47,"a":-0.1,"b":0.1},{"r":13,"c":"P","x":50,"a":0.05,"b":-0.1},{"r":13,"c":"P","x":53,"a":-0.1,"b":0.05},{"r":13,"c":"P","x":56,"a":-0.05,"b":0},{"r":13,"c":"P","x":59,"a":0,"b":0},
{"r":14,"c":"G","x":0,"a":1,"b":1},{"r":14,"c":"G","x":2,"a":0.35,"b":0.35},{"r":14,"c":"G","x":5,"a":-0.53,"b":-0.45},{"r":14,"c":"G","x":8,"a":0.2,"b":0.15},{"r":14,"c":"G","x":10,"a":0.66,"b":0.55},{"r":14,"c":"G","x":13,"a":0,"b":0},{"r":14,"c":"G","x":15,"a":-0.55,"b":-0.5},{"r":14,"c":"G","x":18,"a":0.1,"b":0.05},{"r":14,"c":"G","x":20,"a":0.55,"b":0.4},{"r":14,"c":"G","x":23,"a":-0.1,"b":-0.1},{"r":14,"c":"G","x":25,"a":-0.42,"b":-0.4},{"r":14,"c":"G","x":28,"a":0.1,"b":0.05},{"r":14,"c":"G","x":30,"a":0.4,"b":0.3},{"r":14,"c":"G","x":33,"a":-0.1,"b":-0.1},{"r":14,"c":"G","x":35,"a":-0.3,"b":-0.25},{"r":14,"c":"G","x":38,"a":0.05,"b":0},{"r":14,"c":"G","x":40,"a":0.25,"b":0.15},{"r":14,"c":"G","x":43,"a":-0.05,"b":-0.05},{"r":14,"c":"G","x":45,"a":-0.17,"b":-0.15},{"r":14,"c":"G","x":48,"a":0.05,"b":0},{"r":14,"c":"G","x":50,"a":0.14,"b":0.05},{"r":14,"c":"G","x":53,"a":-0.02,"b":-0.02},{"r":14,"c":"G","x":55,"a":-0.08,"b":-0.05},{"r":14,"c":"G","x":57,"a":0,"b":0.02},{"r":14,"c":"G","x":59,"a":0.02,"b":0.03},
{"r":14,"c":"B","x":0,"a":1,"b":1},{"r":14,"c":"B","x":1,"a":0.05,"b":0.1},{"r":14,"c":"B","x":2,"a":-0.1,"b":0.05},{"r":14,"c":"B","x":4,"a":0,"b":0.1},{"r":14,"c":"B","x":5,"a":0.05,"b":0.27},{"r":14,"c":"B","x":8,"a":0.1,"b":-0.1},{"r":14,"c":"B","x":11,"a":-0.1,"b":0},{"r":14,"c":"B","x":13,"a":0.05,"b":-0.2},{"r":14,"c":"B","x":15,"a":0.1,"b":0.05},{"r":14,"c":"B","x":18,"a":0,"b":-0.05},{"r":14,"c":"B","x":20,"a":-0.15,"b":-0.1},{"r":14,"c":"B","x":22,"a":-0.05,"b":-0.28},{"r":14,"c":"B","x":24,"a":0.05,"b":0.05},{"r":14,"c":"B","x":27,"a":-0.1,"b":0.05},{"r":14,"c":"B","x":29,"a":0.1,"b":-0.05},{"r":14,"c":"B","x":31,"a":0.1,"b":0.05},{"r":14,"c":"B","x":34,"a":0,"b":0},{"r":14,"c":"B","x":38,"a":-0.1,"b":0.05},{"r":14,"c":"B","x":42,"a":0.05,"b":0.05},{"r":14,"c":"B","x":46,"a":0.05,"b":0},{"r":14,"c":"B","x":48,"a":-0.1,"b":0.05},{"r":14,"c":"B","x":50,"a":0.2,"b":0},{"r":14,"c":"B","x":53,"a":-0.1,"b":-0.05},{"r":14,"c":"B","x":56,"a":0.02,"b":0},{"r":14,"c":"B","x":59,"a":0,"b":0},
{"r":14,"c":"H","x":0,"a":1,"b":1},{"r":14,"c":"H","x":1,"a":0.8,"b":0.9},{"r":14,"c":"H","x":2,"a":0.72,"b":0.82},{"r":14,"c":"H","x":4,"a":0.6,"b":0.7},{"r":14,"c":"H","x":6,"a":0.45,"b":0.55},{"r":14,"c":"H","x":8,"a":0.3,"b":0.38},{"r":14,"c":"H","x":10,"a":0.12,"b":0.18},{"r":14,"c":"H","x":12,"a":-0.05,"b":0},{"r":14,"c":"H","x":14,"a":-0.2,"b":-0.15},{"r":14,"c":"H","x":16,"a":-0.27,"b":-0.22},{"r":14,"c":"H","x":18,"a":-0.22,"b":-0.22},{"r":14,"c":"H","x":21,"a":-0.15,"b":-0.15},{"r":14,"c":"H","x":24,"a":-0.1,"b":-0.1},{"r":14,"c":"H","x":27,"a":-0.05,"b":-0.08},{"r":14,"c":"H","x":30,"a":-0.05,"b":-0.05},{"r":14,"c":"H","x":33,"a":0,"b":0},{"r":14,"c":"H","x":36,"a":-0.05,"b":-0.05},{"r":14,"c":"H","x":39,"a":-0.02,"b":-0.03},{"r":14,"c":"H","x":42,"a":-0.02,"b":-0.05},{"r":14,"c":"H","x":45,"a":0,"b":-0.1},{"r":14,"c":"H","x":48,"a":0,"b":-0.15},{"r":14,"c":"H","x":50,"a":0,"b":-0.15},{"r":14,"c":"H","x":53,"a":-0.05,"b":-0.1},{"r":14,"c":"H","x":56,"a":-0.02,"b":-0.05},{"r":14,"c":"H","x":59,"a":0,"b":0},
{"r":14,"c":"L","x":0,"a":1,"b":1},{"r":14,"c":"L","x":2,"a":0.88,"b":0.9},{"r":14,"c":"L","x":5,"a":0.78,"b":0.8},{"r":14,"c":"L","x":8,"a":0.6,"b":0.65},{"r":14,"c":"L","x":10,"a":0.4,"b":0.5},{"r":14,"c":"L","x":13,"a":0.2,"b":0.3},{"r":14,"c":"L","x":16,"a":0,"b":0.1},{"r":14,"c":"L","x":18,"a":-0.1,"b":0},{"r":14,"c":"L","x":20,"a":-0.2,"b":-0.1},{"r":14,"c":"L","x":22,"a":-0.25,"b":-0.2},{"r":14,"c":"L","x":25,"a":-0.27,"b":-0.3},{"r":14,"c":"L","x":28,"a":-0.25,"b":-0.36},{"r":14,"c":"L","x":32,"a":-0.22,"b":-0.33},{"r":14,"c":"L","x":35,"a":-0.2,"b":-0.3},{"r":14,"c":"L","x":39,"a":-0.18,"b":-0.25},{"r":14,"c":"L","x":43,"a":-0.15,"b":-0.2},{"r":14,"c":"L","x":47,"a":-0.12,"b":-0.15},{"r":14,"c":"L","x":51,"a":-0.08,"b":-0.1},{"r":14,"c":"L","x":55,"a":-0.04,"b":-0.05},{"r":14,"c":"L","x":59,"a":0,"b":0},
{"r":14,"c":"P","x":0,"a":1,"b":1},{"r":14,"c":"P","x":1,"a":0.5,"b":0.3},{"r":14,"c":"P","x":2,"a":0.2,"b":0.2},{"r":14,"c":"P","x":3,"a":0.05,"b":0.1},{"r":14,"c":"P","x":5,"a":0.15,"b":0.3},{"r":14,"c":"P","x":7,"a":-0.1,"b":0.25},{"r":14,"c":"P","x":9,"a":0.15,"b":0.35},{"r":14,"c":"P","x":11,"a":-0.05,"b":0.1},{"r":14,"c":"P","x":13,"a":0.1,"b":-0.1},{"r":14,"c":"P","x":15,"a":-0.05,"b":0.15},{"r":14,"c":"P","x":17,"a":0.05,"b":0.2},{"r":14,"c":"P","x":19,"a":0.1,"b":0.05},{"r":14,"c":"P","x":21,"a":0,"b":-0.1},{"r":14,"c":"P","x":23,"a":-0.15,"b":-0.15},{"r":14,"c":"P","x":25,"a":0.1,"b":0},{"r":14,"c":"P","x":27,"a":0,"b":0.1},{"r":14,"c":"P","x":29,"a":-0.15,"b":0},{"r":14,"c":"P","x":31,"a":0,"b":-0.2},{"r":14,"c":"P","x":34,"a":0.1,"b":0.1},{"r":14,"c":"P","x":37,"a":-0.15,"b":-0.1},{"r":14,"c":"P","x":40,"a":0.05,"b":-0.3},{"r":14,"c":"P","x":43,"a":0,"b":0},{"r":14,"c":"P","x":46,"a":-0.1,"b":-0.05},{"r":14,"c":"P","x":49,"a":0,"b":0.1},{"r":14,"c":"P","x":52,"a":0.05,"b":0.05},{"r":14,"c":"P","x":55,"a":0,"b":-0.1},{"r":14,"c":"P","x":58,"a":-0.05,"b":-0.05}
]},
"data":{"name":"acf"},
"transform":[{"fold":["a","b"],"as":["k","v"]}],
"spacing":19.9,
"vconcat":[
{"hconcat":[
{"transform":[{"filter":"datum.c=='G' && datum.r<14"}],
"facet":{"row":{"field":"r","type":"ordinal","header":{"labels":false,"title":null}},"column":{"field":"c","type":"nominal","header":{"title":null}}},
"spacing":{"row":19.9,"column":46.7},
"resolve":{"axis":{"x":"independent","y":"independent"}},
"spec":{"width":253,"height":168.4,"layer":[
{"mark":{"type":"line","strokeWidth":2,"interpolate":"monotone"},"encoding":{
"x":{"field":"x","type":"quantitative","scale":{"domain":[-2.95,61.95],"nice":false,"zero":false},"axis":{"values":[0,25,50],"labels":false,"title":null}},
"y":{"field":"v","type":"quantitative","scale":{"domain":[-0.851,1.13],"nice":false,"zero":false},"axis":{"values":[0,0.5,1],"format":".1f","title":null}},
"color":{"field":"k","type":"nominal","scale":{"domain":["a","b"],"range":["#3a6c97","#d08545"]},"legend":null}}},
{"mark":{"type":"rule","color":"#555555","strokeWidth":2.5,"strokeDash":[9,4]},"encoding":{"y":{"datum":0}}}
]}},
{"transform":[{"filter":"datum.c!='G' && datum.r<14"}],
"facet":{"row":{"field":"r","type":"ordinal","header":{"labels":false,"title":null}},"column":{"field":"c","type":"nominal","sort":["B","H","L","P"],"header":{"title":null}}},
"spacing":{"row":19.9,"column":46.7},
"resolve":{"axis":{"x":"independent","y":"independent"}},
"spec":{"width":253,"height":168.4,"layer":[
{"mark":{"type":"line","strokeWidth":2,"interpolate":"monotone"},"encoding":{
"x":{"field":"x","type":"quantitative","scale":{"domain":[-2.95,61.95],"nice":false,"zero":false},"axis":{"values":[0,25,50],"labels":false,"title":null}},
"y":{"field":"v","type":"quantitative","scale":{"domain":[-0.851,1.13],"nice":false,"zero":false},"axis":{"values":[0,0.5,1],"labels":false,"title":null}},
"color":{"field":"k","type":"nominal","scale":{"domain":["a","b"],"range":["#3a6c97","#d08545"]},"legend":null}}},
{"mark":{"type":"rule","color":"#555555","strokeWidth":2.5,"strokeDash":[9,4]},"encoding":{"y":{"datum":0}}}
]}}
],"spacing":46.7},
{"hconcat":[
{"transform":[{"filter":"datum.c=='G' && datum.r==14"}],
"width":253,"height":168.4,"layer":[
{"mark":{"type":"line","strokeWidth":2,"interpolate":"monotone"},"encoding":{
"x":{"field":"x","type":"quantitative","scale":{"domain":[-2.95,61.95],"nice":false,"zero":false},"axis":{"values":[0,25,50],"title":"Lag"}},
"y":{"field":"v","type":"quantitative","scale":{"domain":[-0.851,1.13],"nice":false,"zero":false},"axis":{"values":[0,0.5,1],"format":".1f","title":null}},
"color":{"field":"k","type":"nominal","scale":{"domain":["a","b"],"range":["#3a6c97","#d08545"]},"legend":null}}},
{"mark":{"type":"rule","color":"#555555","strokeWidth":2.5,"strokeDash":[9,4]},"encoding":{"y":{"datum":0}}}
]},
{"transform":[{"filter":"datum.c!='G' && datum.r==14"}],
"facet":{"column":{"field":"c","type":"nominal","sort":["B","H","L","P"],"header":{"labels":false,"title":null}}},
"spacing":{"column":46.7},
"resolve":{"axis":{"x":"independent","y":"independent"}},
"spec":{"width":253,"height":168.4,"layer":[
{"mark":{"type":"line","strokeWidth":2,"interpolate":"monotone"},"encoding":{
"x":{"field":"x","type":"quantitative","scale":{"domain":[-2.95,61.95],"nice":false,"zero":false},"axis":{"values":[0,25,50],"title":null}},
"y":{"field":"v","type":"quantitative","scale":{"domain":[-0.851,1.13],"nice":false,"zero":false},"axis":{"values":[0,0.5,1],"labels":false,"title":null}},
"color":{"field":"k","type":"nominal","scale":{"domain":["a","b"],"range":["#3a6c97","#d08545"]},"legend":null}}},
{"mark":{"type":"rule","color":"#555555","strokeWidth":2.5,"strokeDash":[9,4]},"encoding":{"y":{"datum":0}}}
]}}
],"spacing":46.7}
],
"config":{
"view":{"stroke":null},
"axis":{"grid":false,"domainColor":"black","domainWidth":1.6,"tickColor":"black","tickWidth":1.6,"tickSize":7,"labelFont":"DejaVu Sans","labelFontSize":21,"labelColor":"black","labelPadding":6,"titleFont":"Liberation Serif","titleFontSize":36,"titleFontWeight":"normal","titleColor":"black","titlePadding":2},
"axisX":{"labelPadding":11},
"header":{"labelFont":"Liberation Serif","labelFontSize":38,"labelColor":"black","labelPadding":-34,"labelBaseline":"bottom","labelExpr":"datum.value=='G'?'Gripper':datum.value=='B'?'Ball':datum.value=='H'?'Hand':datum.value=='L'?'Balloon':'Paper'"}
}
}
